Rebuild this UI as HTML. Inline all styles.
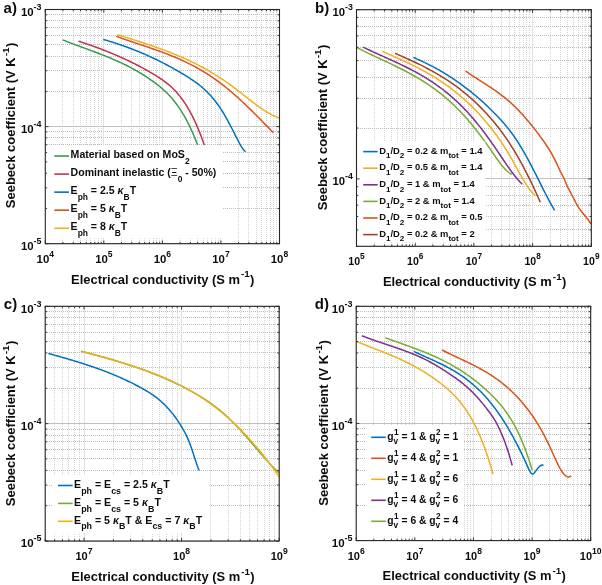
<!DOCTYPE html><html><head><meta charset="utf-8"><style>html,body{margin:0;padding:0;background:#fff;overflow:hidden}svg{display:block;filter:blur(0.45px)}</style></head><body><svg width="602" height="585" viewBox="0 0 602 585">
<style>.mnv{stroke:#d5d5d5;stroke-width:1;stroke-dasharray:1 1}.mnh{stroke:#bcbcbc;stroke-width:1;stroke-dasharray:1 1}.mjv{stroke:#dcdcdc;stroke-width:.9}.mjh{stroke:#c0c0c0;stroke-width:1}.tk{stroke:#262626;stroke-width:.9;fill:none}.bx{stroke:#262626;stroke-width:1.1;fill:none}text{font-family:"Liberation Sans", sans-serif;font-weight:bold;fill:#0d0d0d}</style>
<rect width="602" height="585" fill="#fff"/>
<line x1="62.5" y1="10" x2="62.5" y2="244" class="mnv"/>
<line x1="73.5" y1="10" x2="73.5" y2="244" class="mnv"/>
<line x1="80.5" y1="10" x2="80.5" y2="244" class="mnv"/>
<line x1="86.5" y1="10" x2="86.5" y2="244" class="mnv"/>
<line x1="90.5" y1="10" x2="90.5" y2="244" class="mnv"/>
<line x1="94.5" y1="10" x2="94.5" y2="244" class="mnv"/>
<line x1="98.5" y1="10" x2="98.5" y2="244" class="mnv"/>
<line x1="101.5" y1="10" x2="101.5" y2="244" class="mnv"/>
<line x1="121.5" y1="10" x2="121.5" y2="244" class="mnv"/>
<line x1="131.5" y1="10" x2="131.5" y2="244" class="mnv"/>
<line x1="139.5" y1="10" x2="139.5" y2="244" class="mnv"/>
<line x1="144.5" y1="10" x2="144.5" y2="244" class="mnv"/>
<line x1="149.5" y1="10" x2="149.5" y2="244" class="mnv"/>
<line x1="153.5" y1="10" x2="153.5" y2="244" class="mnv"/>
<line x1="156.5" y1="10" x2="156.5" y2="244" class="mnv"/>
<line x1="159.5" y1="10" x2="159.5" y2="244" class="mnv"/>
<line x1="180.5" y1="10" x2="180.5" y2="244" class="mnv"/>
<line x1="190.5" y1="10" x2="190.5" y2="244" class="mnv"/>
<line x1="197.5" y1="10" x2="197.5" y2="244" class="mnv"/>
<line x1="203.5" y1="10" x2="203.5" y2="244" class="mnv"/>
<line x1="207.5" y1="10" x2="207.5" y2="244" class="mnv"/>
<line x1="211.5" y1="10" x2="211.5" y2="244" class="mnv"/>
<line x1="215.5" y1="10" x2="215.5" y2="244" class="mnv"/>
<line x1="218.5" y1="10" x2="218.5" y2="244" class="mnv"/>
<line x1="238.5" y1="10" x2="238.5" y2="244" class="mnv"/>
<line x1="248.5" y1="10" x2="248.5" y2="244" class="mnv"/>
<line x1="256.5" y1="10" x2="256.5" y2="244" class="mnv"/>
<line x1="261.5" y1="10" x2="261.5" y2="244" class="mnv"/>
<line x1="266.5" y1="10" x2="266.5" y2="244" class="mnv"/>
<line x1="270.5" y1="10" x2="270.5" y2="244" class="mnv"/>
<line x1="273.5" y1="10" x2="273.5" y2="244" class="mnv"/>
<line x1="276.5" y1="10" x2="276.5" y2="244" class="mnv"/>
<line x1="45" y1="208.5" x2="280" y2="208.5" class="mnh"/>
<line x1="45" y1="187.5" x2="280" y2="187.5" class="mnh"/>
<line x1="45" y1="173.5" x2="280" y2="173.5" class="mnh"/>
<line x1="45" y1="161.5" x2="280" y2="161.5" class="mnh"/>
<line x1="45" y1="152.5" x2="280" y2="152.5" class="mnh"/>
<line x1="45" y1="144.5" x2="280" y2="144.5" class="mnh"/>
<line x1="45" y1="137.5" x2="280" y2="137.5" class="mnh"/>
<line x1="45" y1="131.5" x2="280" y2="131.5" class="mnh"/>
<line x1="45" y1="91.5" x2="280" y2="91.5" class="mnh"/>
<line x1="45" y1="70.5" x2="280" y2="70.5" class="mnh"/>
<line x1="45" y1="56.5" x2="280" y2="56.5" class="mnh"/>
<line x1="45" y1="44.5" x2="280" y2="44.5" class="mnh"/>
<line x1="45" y1="35.5" x2="280" y2="35.5" class="mnh"/>
<line x1="45" y1="27.5" x2="280" y2="27.5" class="mnh"/>
<line x1="45" y1="20.5" x2="280" y2="20.5" class="mnh"/>
<line x1="45" y1="14.5" x2="280" y2="14.5" class="mnh"/>
<line x1="45.5" y1="10" x2="45.5" y2="244" class="mjv"/>
<line x1="103.5" y1="10" x2="103.5" y2="244" class="mjv"/>
<line x1="162.5" y1="10" x2="162.5" y2="244" class="mjv"/>
<line x1="220.5" y1="10" x2="220.5" y2="244" class="mjv"/>
<line x1="279.5" y1="10" x2="279.5" y2="244" class="mjv"/>
<line x1="45" y1="243.5" x2="280" y2="243.5" class="mjh"/>
<line x1="45" y1="126.5" x2="280" y2="126.5" class="mjh"/>
<line x1="45" y1="9.5" x2="280" y2="9.5" class="mjh"/>
<path d="M62.7 39.88 L63.69 40.28 L64.69 40.67 L65.68 41.06 L66.67 41.45 L67.66 41.84 L68.66 42.23 L69.65 42.61 L70.64 42.99 L71.63 43.37 L72.63 43.74 L73.62 44.12 L74.61 44.49 L75.6 44.86 L76.6 45.23 L77.59 45.6 L78.58 45.97 L79.58 46.33 L80.57 46.7 L81.56 47.06 L82.55 47.43 L83.55 47.79 L84.54 48.16 L85.53 48.52 L86.52 48.88 L87.52 49.25 L88.51 49.61 L89.5 49.98 L90.49 50.35 L91.49 50.71 L92.48 51.08 L93.47 51.45 L94.46 51.82 L95.46 52.19 L96.45 52.57 L97.44 52.94 L98.44 53.32 L99.43 53.7 L100.42 54.08 L101.41 54.47 L102.41 54.85 L103.4 55.24 L104.39 55.64 L105.38 56.03 L106.38 56.43 L107.37 56.83 L108.36 57.24 L109.35 57.65 L110.35 58.06 L111.34 58.47 L112.33 58.89 L113.33 59.32 L114.32 59.75 L115.31 60.18 L116.3 60.62 L117.3 61.06 L118.29 61.51 L119.28 61.96 L120.27 62.42 L121.27 62.88 L122.26 63.35 L123.25 63.83 L124.24 64.31 L125.24 64.79 L126.23 65.29 L127.22 65.79 L128.21 66.29 L129.21 66.8 L130.2 67.32 L131.19 67.85 L132.19 68.38 L133.18 68.92 L134.17 69.47 L135.16 70.02 L136.16 70.58 L137.15 71.15 L138.14 71.73 L139.13 72.32 L140.13 72.91 L141.12 73.51 L142.11 74.12 L143.1 74.74 L144.1 75.37 L145.09 76.01 L146.08 76.66 L147.07 77.31 L148.07 77.98 L149.06 78.65 L150.05 79.34 L151.05 80.03 L152.04 80.74 L153.03 81.45 L154.02 82.18 L155.02 82.91 L156.01 83.66 L157 84.42 L157.99 85.19 L158.99 85.98 L159.98 86.78 L160.97 87.6 L161.96 88.45 L162.96 89.31 L163.95 90.2 L164.94 91.11 L165.94 92.05 L166.93 93.01 L167.92 94.01 L168.91 95.03 L169.91 96.09 L170.9 97.18 L171.89 98.31 L172.88 99.48 L173.88 100.68 L174.87 101.92 L175.86 103.21 L176.85 104.54 L177.85 105.91 L178.84 107.34 L179.83 108.81 L180.82 110.32 L181.82 111.9 L182.81 113.52 L183.8 115.2 L184.8 116.93 L185.79 118.72 L186.78 120.57 L187.77 122.49 L188.77 124.46 L189.76 126.5 L190.75 128.6 L191.74 130.77 L192.74 133.01 L193.73 135.32 L194.72 137.7 L195.71 140.15 L196.71 142.68 L197.7 145.29" stroke="#3a9a4f" stroke-width="1.5" fill="none" stroke-linejoin="round" stroke-linecap="butt"/>
<path d="M78.4 41.09 L79.39 41.42 L80.38 41.75 L81.38 42.09 L82.37 42.42 L83.36 42.76 L84.35 43.1 L85.34 43.44 L86.34 43.78 L87.33 44.12 L88.32 44.47 L89.31 44.81 L90.31 45.16 L91.3 45.52 L92.29 45.87 L93.28 46.23 L94.27 46.59 L95.27 46.95 L96.26 47.31 L97.25 47.68 L98.24 48.05 L99.23 48.42 L100.23 48.79 L101.22 49.17 L102.21 49.55 L103.2 49.93 L104.2 50.31 L105.19 50.7 L106.18 51.09 L107.17 51.49 L108.16 51.88 L109.16 52.28 L110.15 52.69 L111.14 53.09 L112.13 53.5 L113.12 53.92 L114.12 54.33 L115.11 54.75 L116.1 55.18 L117.09 55.6 L118.09 56.03 L119.08 56.47 L120.07 56.91 L121.06 57.35 L122.05 57.79 L123.05 58.24 L124.04 58.7 L125.03 59.15 L126.02 59.61 L127.01 60.08 L128.01 60.55 L129 61.02 L129.99 61.5 L130.98 61.98 L131.97 62.47 L132.97 62.96 L133.96 63.45 L134.95 63.95 L135.94 64.46 L136.94 64.97 L137.93 65.48 L138.92 66 L139.91 66.52 L140.9 67.05 L141.9 67.58 L142.89 68.12 L143.88 68.66 L144.87 69.21 L145.86 69.76 L146.86 70.32 L147.85 70.89 L148.84 71.45 L149.83 72.03 L150.83 72.61 L151.82 73.19 L152.81 73.78 L153.8 74.38 L154.79 74.98 L155.79 75.58 L156.78 76.2 L157.77 76.82 L158.76 77.45 L159.75 78.09 L160.75 78.75 L161.74 79.42 L162.73 80.11 L163.72 80.82 L164.71 81.54 L165.71 82.29 L166.7 83.06 L167.69 83.85 L168.68 84.67 L169.68 85.52 L170.67 86.4 L171.66 87.31 L172.65 88.25 L173.64 89.22 L174.64 90.23 L175.63 91.28 L176.62 92.37 L177.61 93.5 L178.6 94.67 L179.6 95.89 L180.59 97.15 L181.58 98.45 L182.57 99.81 L183.57 101.22 L184.56 102.67 L185.55 104.19 L186.54 105.75 L187.53 107.38 L188.53 109.06 L189.52 110.8 L190.51 112.61 L191.5 114.48 L192.49 116.41 L193.49 118.41 L194.48 120.48 L195.47 122.61 L196.46 124.82 L197.46 127.1 L198.45 129.46 L199.44 131.89 L200.43 134.4 L201.42 136.99 L202.42 139.66 L203.41 142.42 L204.4 145.25" stroke="#c0334f" stroke-width="1.5" fill="none" stroke-linejoin="round" stroke-linecap="butt"/>
<path d="M103.2 39.41 L104.2 39.7 L105.19 39.98 L106.19 40.27 L107.19 40.57 L108.18 40.87 L109.18 41.17 L110.18 41.47 L111.17 41.78 L112.17 42.09 L113.17 42.41 L114.16 42.73 L115.16 43.05 L116.15 43.38 L117.15 43.7 L118.15 44.04 L119.14 44.37 L120.14 44.71 L121.14 45.06 L122.13 45.4 L123.13 45.75 L124.13 46.11 L125.12 46.46 L126.12 46.82 L127.12 47.19 L128.11 47.56 L129.11 47.93 L130.11 48.31 L131.1 48.69 L132.1 49.07 L133.1 49.46 L134.09 49.85 L135.09 50.24 L136.08 50.64 L137.08 51.04 L138.08 51.45 L139.07 51.86 L140.07 52.28 L141.07 52.69 L142.06 53.12 L143.06 53.54 L144.06 53.97 L145.05 54.41 L146.05 54.84 L147.05 55.28 L148.04 55.73 L149.04 56.18 L150.04 56.64 L151.03 57.09 L152.03 57.56 L153.03 58.02 L154.02 58.49 L155.02 58.97 L156.01 59.45 L157.01 59.93 L158.01 60.42 L159 60.91 L160 61.4 L161 61.9 L161.99 62.41 L162.99 62.92 L163.99 63.43 L164.98 63.95 L165.98 64.47 L166.98 65 L167.97 65.53 L168.97 66.06 L169.97 66.6 L170.96 67.14 L171.96 67.69 L172.96 68.25 L173.95 68.8 L174.95 69.36 L175.94 69.93 L176.94 70.5 L177.94 71.08 L178.93 71.66 L179.93 72.24 L180.93 72.83 L181.92 73.43 L182.92 74.02 L183.92 74.63 L184.91 75.23 L185.91 75.85 L186.91 76.47 L187.9 77.09 L188.9 77.72 L189.9 78.36 L190.89 79.01 L191.89 79.67 L192.89 80.34 L193.88 81.02 L194.88 81.72 L195.87 82.44 L196.87 83.17 L197.87 83.92 L198.86 84.69 L199.86 85.48 L200.86 86.29 L201.85 87.12 L202.85 87.98 L203.85 88.87 L204.84 89.77 L205.84 90.71 L206.84 91.68 L207.83 92.67 L208.83 93.7 L209.83 94.76 L210.82 95.85 L211.82 96.98 L212.82 98.14 L213.81 99.34 L214.81 100.58 L215.8 101.86 L216.8 103.18 L217.8 104.54 L218.79 105.94 L219.79 107.39 L220.79 108.88 L221.78 110.42 L222.78 112.01 L223.78 113.65 L224.77 115.34 L225.77 117.07 L226.77 118.85 L227.76 120.67 L228.76 122.53 L229.76 124.41 L230.75 126.32 L231.75 128.25 L232.75 130.19 L233.74 132.14 L234.74 134.09 L235.73 136.05 L236.73 138 L237.73 139.94 L238.72 141.86 L239.72 143.74 L240.72 145.53 L241.71 147.2 L242.71 148.69 L243.71 149.97 L244.7 151 L245.7 151.74" stroke="#0072bd" stroke-width="1.5" fill="none" stroke-linejoin="round" stroke-linecap="butt"/>
<path d="M116.3 36.3 L117.29 36.66 L118.29 37.03 L119.28 37.39 L120.28 37.74 L121.27 38.1 L122.27 38.45 L123.26 38.8 L124.25 39.15 L125.25 39.5 L126.24 39.84 L127.24 40.18 L128.23 40.52 L129.23 40.86 L130.22 41.2 L131.21 41.54 L132.21 41.88 L133.2 42.21 L134.2 42.55 L135.19 42.88 L136.19 43.22 L137.18 43.55 L138.17 43.88 L139.17 44.22 L140.16 44.55 L141.16 44.88 L142.15 45.21 L143.15 45.55 L144.14 45.88 L145.13 46.22 L146.13 46.55 L147.12 46.89 L148.12 47.23 L149.11 47.57 L150.11 47.91 L151.1 48.25 L152.09 48.59 L153.09 48.94 L154.08 49.28 L155.08 49.63 L156.07 49.98 L157.07 50.34 L158.06 50.69 L159.06 51.05 L160.05 51.41 L161.04 51.77 L162.04 52.14 L163.03 52.51 L164.03 52.88 L165.02 53.26 L166.02 53.64 L167.01 54.02 L168 54.4 L169 54.79 L169.99 55.19 L170.99 55.59 L171.98 55.99 L172.98 56.4 L173.97 56.81 L174.96 57.22 L175.96 57.64 L176.95 58.07 L177.95 58.5 L178.94 58.93 L179.94 59.37 L180.93 59.82 L181.92 60.27 L182.92 60.73 L183.91 61.19 L184.91 61.66 L185.9 62.13 L186.9 62.61 L187.89 63.1 L188.88 63.59 L189.88 64.09 L190.87 64.6 L191.87 65.11 L192.86 65.63 L193.86 66.16 L194.85 66.69 L195.84 67.23 L196.84 67.78 L197.83 68.34 L198.83 68.9 L199.82 69.47 L200.82 70.05 L201.81 70.64 L202.8 71.24 L203.8 71.84 L204.79 72.45 L205.79 73.07 L206.78 73.7 L207.78 74.34 L208.77 74.98 L209.76 75.64 L210.76 76.3 L211.75 76.97 L212.75 77.65 L213.74 78.33 L214.74 79.03 L215.73 79.73 L216.72 80.44 L217.72 81.16 L218.71 81.89 L219.71 82.63 L220.7 83.37 L221.7 84.13 L222.69 84.89 L223.68 85.66 L224.68 86.44 L225.67 87.23 L226.67 88.03 L227.66 88.83 L228.66 89.65 L229.65 90.47 L230.64 91.3 L231.64 92.14 L232.63 93 L233.63 93.85 L234.62 94.72 L235.62 95.6 L236.61 96.49 L237.61 97.38 L238.6 98.28 L239.59 99.19 L240.59 100.11 L241.58 101.03 L242.58 101.96 L243.57 102.9 L244.57 103.85 L245.56 104.79 L246.55 105.75 L247.55 106.71 L248.54 107.68 L249.54 108.65 L250.53 109.62 L251.53 110.6 L252.52 111.59 L253.51 112.57 L254.51 113.57 L255.5 114.56 L256.5 115.56 L257.49 116.56 L258.49 117.56 L259.48 118.56 L260.47 119.57 L261.47 120.58 L262.46 121.58 L263.46 122.59 L264.45 123.6 L265.45 124.61 L266.44 125.63 L267.43 126.64 L268.43 127.65 L269.42 128.66 L270.42 129.66 L271.41 130.67 L272.41 131.68 L273.4 132.68" stroke="#d95319" stroke-width="1.5" fill="none" stroke-linejoin="round" stroke-linecap="butt"/>
<path d="M117.5 34.59 L118.5 34.92 L119.5 35.24 L120.5 35.56 L121.5 35.88 L122.49 36.2 L123.49 36.52 L124.49 36.84 L125.49 37.16 L126.49 37.48 L127.49 37.8 L128.49 38.12 L129.49 38.43 L130.48 38.75 L131.48 39.07 L132.48 39.39 L133.48 39.71 L134.48 40.04 L135.48 40.36 L136.48 40.68 L137.48 41 L138.47 41.33 L139.47 41.65 L140.47 41.98 L141.47 42.3 L142.47 42.63 L143.47 42.96 L144.47 43.29 L145.47 43.62 L146.46 43.96 L147.46 44.29 L148.46 44.63 L149.46 44.96 L150.46 45.3 L151.46 45.64 L152.46 45.99 L153.46 46.33 L154.45 46.68 L155.45 47.03 L156.45 47.38 L157.45 47.73 L158.45 48.09 L159.45 48.45 L160.45 48.81 L161.45 49.17 L162.44 49.54 L163.44 49.91 L164.44 50.28 L165.44 50.66 L166.44 51.03 L167.44 51.41 L168.44 51.8 L169.44 52.19 L170.43 52.58 L171.43 52.97 L172.43 53.37 L173.43 53.77 L174.43 54.17 L175.43 54.58 L176.43 54.99 L177.43 55.41 L178.42 55.83 L179.42 56.25 L180.42 56.68 L181.42 57.11 L182.42 57.54 L183.42 57.98 L184.42 58.43 L185.42 58.88 L186.41 59.33 L187.41 59.79 L188.41 60.25 L189.41 60.72 L190.41 61.19 L191.41 61.67 L192.41 62.15 L193.41 62.63 L194.4 63.13 L195.4 63.62 L196.4 64.12 L197.4 64.63 L198.4 65.15 L199.4 65.66 L200.4 66.19 L201.4 66.72 L202.4 67.25 L203.39 67.8 L204.39 68.34 L205.39 68.9 L206.39 69.45 L207.39 70.02 L208.39 70.59 L209.39 71.17 L210.39 71.75 L211.38 72.34 L212.38 72.94 L213.38 73.54 L214.38 74.15 L215.38 74.77 L216.38 75.39 L217.38 76.02 L218.38 76.66 L219.37 77.3 L220.37 77.95 L221.37 78.61 L222.37 79.27 L223.37 79.94 L224.37 80.62 L225.37 81.31 L226.37 82 L227.36 82.7 L228.36 83.41 L229.36 84.12 L230.36 84.84 L231.36 85.57 L232.36 86.31 L233.36 87.05 L234.36 87.8 L235.35 88.56 L236.35 89.33 L237.35 90.1 L238.35 90.88 L239.35 91.66 L240.35 92.44 L241.35 93.23 L242.35 94.02 L243.34 94.81 L244.34 95.6 L245.34 96.39 L246.34 97.19 L247.34 97.98 L248.34 98.76 L249.34 99.55 L250.34 100.33 L251.33 101.1 L252.33 101.88 L253.33 102.64 L254.33 103.4 L255.33 104.15 L256.33 104.89 L257.33 105.63 L258.33 106.35 L259.32 107.06 L260.32 107.77 L261.32 108.46 L262.32 109.14 L263.32 109.8 L264.32 110.45 L265.32 111.09 L266.32 111.71 L267.31 112.31 L268.31 112.9 L269.31 113.47 L270.31 114.02 L271.31 114.55 L272.31 115.07 L273.31 115.56 L274.31 116.03 L275.3 116.47 L276.3 116.9 L277.3 117.3 L278.3 117.68 L279.3 118.03" stroke="#edb120" stroke-width="1.5" fill="none" stroke-linejoin="round" stroke-linecap="butt"/>
<rect x="45.3" y="145.4" width="176.7" height="92.6" fill="#fff"/>
<line x1="54.3" y1="156.05" x2="69" y2="156.05" stroke="#3a9a4f" stroke-width="1.6"/>
<text x="70.6" y="158.25" font-size="10.55">Material based on MoS<tspan dy="5.28" font-size="8.44">2</tspan></text>
<line x1="54.3" y1="174.1" x2="69" y2="174.1" stroke="#c0334f" stroke-width="1.6"/>
<text x="70.6" y="176.3" font-size="10.55">Dominant inelastic (<tspan font-weight="normal">&#926;</tspan><tspan dy="5.28" font-size="8.44">0</tspan><tspan dy="-5.28"> - 50%)</tspan></text>
<line x1="54.3" y1="192.15" x2="69" y2="192.15" stroke="#0072bd" stroke-width="1.6"/>
<text x="70.6" y="194.35" font-size="10.55">E<tspan dy="5.28" font-size="8.44">ph</tspan><tspan dy="-5.28"> = 2.5 <tspan font-style="italic">&#954;</tspan><tspan dy="5.28" font-size="8.44">B</tspan><tspan dy="-5.28">T</tspan></tspan></text>
<line x1="54.3" y1="210.2" x2="69" y2="210.2" stroke="#d95319" stroke-width="1.6"/>
<text x="70.6" y="212.4" font-size="10.55">E<tspan dy="5.28" font-size="8.44">ph</tspan><tspan dy="-5.28"> = 5 <tspan font-style="italic">&#954;</tspan><tspan dy="5.28" font-size="8.44">B</tspan><tspan dy="-5.28">T</tspan></tspan></text>
<line x1="54.3" y1="228.25" x2="69" y2="228.25" stroke="#edb120" stroke-width="1.6"/>
<text x="70.6" y="230.45" font-size="10.55">E<tspan dy="5.28" font-size="8.44">ph</tspan><tspan dy="-5.28"> = 8 <tspan font-style="italic">&#954;</tspan><tspan dy="5.28" font-size="8.44">B</tspan><tspan dy="-5.28">T</tspan></tspan></text>
<path d="M45.3 243.7 v-3.2 M45.3 9.5 v3.2 M103.85 243.7 v-3.2 M103.85 9.5 v3.2 M162.4 243.7 v-3.2 M162.4 9.5 v3.2 M220.95 243.7 v-3.2 M220.95 9.5 v3.2 M279.5 243.7 v-3.2 M279.5 9.5 v3.2 M62.93 243.7 v-1.8 M62.93 9.5 v1.8 M73.24 243.7 v-1.8 M73.24 9.5 v1.8 M80.55 243.7 v-1.8 M80.55 9.5 v1.8 M86.22 243.7 v-1.8 M86.22 9.5 v1.8 M90.86 243.7 v-1.8 M90.86 9.5 v1.8 M94.78 243.7 v-1.8 M94.78 9.5 v1.8 M98.18 243.7 v-1.8 M98.18 9.5 v1.8 M101.17 243.7 v-1.8 M101.17 9.5 v1.8 M121.48 243.7 v-1.8 M121.48 9.5 v1.8 M131.79 243.7 v-1.8 M131.79 9.5 v1.8 M139.1 243.7 v-1.8 M139.1 9.5 v1.8 M144.77 243.7 v-1.8 M144.77 9.5 v1.8 M149.41 243.7 v-1.8 M149.41 9.5 v1.8 M153.33 243.7 v-1.8 M153.33 9.5 v1.8 M156.73 243.7 v-1.8 M156.73 9.5 v1.8 M159.72 243.7 v-1.8 M159.72 9.5 v1.8 M180.03 243.7 v-1.8 M180.03 9.5 v1.8 M190.34 243.7 v-1.8 M190.34 9.5 v1.8 M197.65 243.7 v-1.8 M197.65 9.5 v1.8 M203.32 243.7 v-1.8 M203.32 9.5 v1.8 M207.96 243.7 v-1.8 M207.96 9.5 v1.8 M211.88 243.7 v-1.8 M211.88 9.5 v1.8 M215.28 243.7 v-1.8 M215.28 9.5 v1.8 M218.27 243.7 v-1.8 M218.27 9.5 v1.8 M238.58 243.7 v-1.8 M238.58 9.5 v1.8 M248.89 243.7 v-1.8 M248.89 9.5 v1.8 M256.2 243.7 v-1.8 M256.2 9.5 v1.8 M261.87 243.7 v-1.8 M261.87 9.5 v1.8 M266.51 243.7 v-1.8 M266.51 9.5 v1.8 M270.43 243.7 v-1.8 M270.43 9.5 v1.8 M273.83 243.7 v-1.8 M273.83 9.5 v1.8 M276.82 243.7 v-1.8 M276.82 9.5 v1.8 M45.3 243.7 h3.2 M279.5 243.7 h-3.2 M45.3 126.6 h3.2 M279.5 126.6 h-3.2 M45.3 9.5 h3.2 M279.5 9.5 h-3.2 M45.3 208.45 h1.8 M279.5 208.45 h-1.8 M45.3 187.83 h1.8 M279.5 187.83 h-1.8 M45.3 173.2 h1.8 M279.5 173.2 h-1.8 M45.3 161.85 h1.8 M279.5 161.85 h-1.8 M45.3 152.58 h1.8 M279.5 152.58 h-1.8 M45.3 144.74 h1.8 M279.5 144.74 h-1.8 M45.3 137.95 h1.8 M279.5 137.95 h-1.8 M45.3 131.96 h1.8 M279.5 131.96 h-1.8 M45.3 91.35 h1.8 M279.5 91.35 h-1.8 M45.3 70.73 h1.8 M279.5 70.73 h-1.8 M45.3 56.1 h1.8 M279.5 56.1 h-1.8 M45.3 44.75 h1.8 M279.5 44.75 h-1.8 M45.3 35.48 h1.8 M279.5 35.48 h-1.8 M45.3 27.64 h1.8 M279.5 27.64 h-1.8 M45.3 20.85 h1.8 M279.5 20.85 h-1.8 M45.3 14.86 h1.8 M279.5 14.86 h-1.8 " class="tk"/>
<rect x="45.3" y="9.5" width="234.2" height="234.2" class="bx"/>
<line x1="374.5" y1="10" x2="374.5" y2="246" class="mnv"/>
<line x1="384.5" y1="10" x2="384.5" y2="246" class="mnv"/>
<line x1="391.5" y1="10" x2="391.5" y2="246" class="mnv"/>
<line x1="397.5" y1="10" x2="397.5" y2="246" class="mnv"/>
<line x1="402.5" y1="10" x2="402.5" y2="246" class="mnv"/>
<line x1="406.5" y1="10" x2="406.5" y2="246" class="mnv"/>
<line x1="409.5" y1="10" x2="409.5" y2="246" class="mnv"/>
<line x1="412.5" y1="10" x2="412.5" y2="246" class="mnv"/>
<line x1="432.5" y1="10" x2="432.5" y2="246" class="mnv"/>
<line x1="443.5" y1="10" x2="443.5" y2="246" class="mnv"/>
<line x1="450.5" y1="10" x2="450.5" y2="246" class="mnv"/>
<line x1="456.5" y1="10" x2="456.5" y2="246" class="mnv"/>
<line x1="460.5" y1="10" x2="460.5" y2="246" class="mnv"/>
<line x1="464.5" y1="10" x2="464.5" y2="246" class="mnv"/>
<line x1="468.5" y1="10" x2="468.5" y2="246" class="mnv"/>
<line x1="471.5" y1="10" x2="471.5" y2="246" class="mnv"/>
<line x1="491.5" y1="10" x2="491.5" y2="246" class="mnv"/>
<line x1="501.5" y1="10" x2="501.5" y2="246" class="mnv"/>
<line x1="509.5" y1="10" x2="509.5" y2="246" class="mnv"/>
<line x1="514.5" y1="10" x2="514.5" y2="246" class="mnv"/>
<line x1="519.5" y1="10" x2="519.5" y2="246" class="mnv"/>
<line x1="523.5" y1="10" x2="523.5" y2="246" class="mnv"/>
<line x1="526.5" y1="10" x2="526.5" y2="246" class="mnv"/>
<line x1="529.5" y1="10" x2="529.5" y2="246" class="mnv"/>
<line x1="550.5" y1="10" x2="550.5" y2="246" class="mnv"/>
<line x1="560.5" y1="10" x2="560.5" y2="246" class="mnv"/>
<line x1="567.5" y1="10" x2="567.5" y2="246" class="mnv"/>
<line x1="573.5" y1="10" x2="573.5" y2="246" class="mnv"/>
<line x1="578.5" y1="10" x2="578.5" y2="246" class="mnv"/>
<line x1="582.5" y1="10" x2="582.5" y2="246" class="mnv"/>
<line x1="585.5" y1="10" x2="585.5" y2="246" class="mnv"/>
<line x1="588.5" y1="10" x2="588.5" y2="246" class="mnv"/>
<line x1="356" y1="246.5" x2="591" y2="246.5" class="mnh"/>
<line x1="356" y1="229.5" x2="591" y2="229.5" class="mnh"/>
<line x1="356" y1="216.5" x2="591" y2="216.5" class="mnh"/>
<line x1="356" y1="205.5" x2="591" y2="205.5" class="mnh"/>
<line x1="356" y1="195.5" x2="591" y2="195.5" class="mnh"/>
<line x1="356" y1="186.5" x2="591" y2="186.5" class="mnh"/>
<line x1="356" y1="128.5" x2="591" y2="128.5" class="mnh"/>
<line x1="356" y1="98.5" x2="591" y2="98.5" class="mnh"/>
<line x1="356" y1="77.5" x2="591" y2="77.5" class="mnh"/>
<line x1="356" y1="60.5" x2="591" y2="60.5" class="mnh"/>
<line x1="356" y1="47.5" x2="591" y2="47.5" class="mnh"/>
<line x1="356" y1="35.5" x2="591" y2="35.5" class="mnh"/>
<line x1="356" y1="26.5" x2="591" y2="26.5" class="mnh"/>
<line x1="356" y1="17.5" x2="591" y2="17.5" class="mnh"/>
<line x1="356.5" y1="10" x2="356.5" y2="246" class="mjv"/>
<line x1="415.5" y1="10" x2="415.5" y2="246" class="mjv"/>
<line x1="473.5" y1="10" x2="473.5" y2="246" class="mjv"/>
<line x1="532.5" y1="10" x2="532.5" y2="246" class="mjv"/>
<line x1="591.5" y1="10" x2="591.5" y2="246" class="mjv"/>
<line x1="356" y1="178.5" x2="591" y2="178.5" class="mjh"/>
<line x1="356" y1="9.5" x2="591" y2="9.5" class="mjh"/>
<path d="M356.5 47.37 L357.5 47.88 L358.49 48.39 L359.49 48.9 L360.48 49.41 L361.48 49.91 L362.47 50.4 L363.47 50.9 L364.46 51.39 L365.46 51.87 L366.46 52.36 L367.45 52.84 L368.45 53.32 L369.44 53.8 L370.44 54.27 L371.43 54.74 L372.43 55.22 L373.42 55.69 L374.42 56.15 L375.41 56.62 L376.41 57.09 L377.41 57.56 L378.4 58.02 L379.4 58.49 L380.39 58.95 L381.39 59.41 L382.38 59.88 L383.38 60.34 L384.37 60.81 L385.37 61.28 L386.37 61.74 L387.36 62.21 L388.36 62.68 L389.35 63.15 L390.35 63.62 L391.34 64.1 L392.34 64.57 L393.33 65.05 L394.33 65.53 L395.32 66.01 L396.32 66.5 L397.32 66.99 L398.31 67.48 L399.31 67.97 L400.3 68.47 L401.3 68.97 L402.29 69.48 L403.29 69.98 L404.28 70.5 L405.28 71.01 L406.28 71.54 L407.27 72.06 L408.27 72.59 L409.26 73.13 L410.26 73.67 L411.25 74.22 L412.25 74.77 L413.24 75.32 L414.24 75.89 L415.24 76.46 L416.23 77.03 L417.23 77.62 L418.22 78.2 L419.22 78.8 L420.21 79.4 L421.21 80.01 L422.2 80.63 L423.2 81.25 L424.19 81.88 L425.19 82.52 L426.19 83.17 L427.18 83.83 L428.18 84.49 L429.17 85.17 L430.17 85.85 L431.16 86.54 L432.16 87.24 L433.15 87.95 L434.15 88.67 L435.15 89.39 L436.14 90.13 L437.14 90.88 L438.13 91.64 L439.13 92.41 L440.12 93.19 L441.12 93.98 L442.11 94.78 L443.11 95.59 L444.11 96.41 L445.1 97.25 L446.1 98.09 L447.09 98.95 L448.09 99.82 L449.08 100.7 L450.08 101.6 L451.07 102.5 L452.07 103.42 L453.06 104.35 L454.06 105.3 L455.06 106.26 L456.05 107.23 L457.05 108.22 L458.04 109.22 L459.04 110.23 L460.03 111.26 L461.03 112.3 L462.02 113.36 L463.02 114.43 L464.02 115.51 L465.01 116.61 L466.01 117.73 L467 118.86 L468 120.01 L468.99 121.17 L469.99 122.34 L470.98 123.53 L471.98 124.74 L472.98 125.96 L473.97 127.19 L474.97 128.44 L475.96 129.7 L476.96 130.97 L477.95 132.26 L478.95 133.56 L479.94 134.87 L480.94 136.19 L481.93 137.53 L482.93 138.88 L483.93 140.25 L484.92 141.62 L485.92 143.01 L486.91 144.41 L487.91 145.82 L488.9 147.24 L489.9 148.68 L490.89 150.12 L491.89 151.57 L492.89 153.03 L493.88 154.48 L494.88 155.93 L495.87 157.36 L496.87 158.78 L497.86 160.17 L498.86 161.54 L499.85 162.87 L500.85 164.16 L501.84 165.41 L502.84 166.61 L503.84 167.76 L504.83 168.85 L505.83 169.87 L506.82 170.83 L507.82 171.71 L508.81 172.51 L509.81 173.22 L510.8 173.85 L511.8 174.38" stroke="#77ac30" stroke-width="1.5" fill="none" stroke-linejoin="round" stroke-linecap="butt"/>
<path d="M363.2 47.18 L364.19 47.66 L365.19 48.14 L366.18 48.61 L367.18 49.09 L368.17 49.56 L369.17 50.02 L370.16 50.49 L371.15 50.95 L372.15 51.41 L373.14 51.87 L374.14 52.32 L375.13 52.78 L376.13 53.23 L377.12 53.68 L378.12 54.13 L379.11 54.58 L380.1 55.03 L381.1 55.48 L382.09 55.93 L383.09 56.37 L384.08 56.82 L385.08 57.27 L386.07 57.72 L387.06 58.17 L388.06 58.62 L389.05 59.07 L390.05 59.52 L391.04 59.97 L392.04 60.42 L393.03 60.88 L394.03 61.34 L395.02 61.79 L396.01 62.26 L397.01 62.72 L398 63.18 L399 63.65 L399.99 64.12 L400.99 64.6 L401.98 65.08 L402.97 65.56 L403.97 66.04 L404.96 66.53 L405.96 67.02 L406.95 67.51 L407.95 68.01 L408.94 68.52 L409.94 69.03 L410.93 69.54 L411.92 70.06 L412.92 70.58 L413.91 71.11 L414.91 71.64 L415.9 72.18 L416.9 72.73 L417.89 73.28 L418.88 73.84 L419.88 74.4 L420.87 74.97 L421.87 75.55 L422.86 76.13 L423.86 76.72 L424.85 77.32 L425.85 77.92 L426.84 78.54 L427.83 79.16 L428.83 79.78 L429.82 80.42 L430.82 81.07 L431.81 81.72 L432.81 82.38 L433.8 83.05 L434.79 83.73 L435.79 84.42 L436.78 85.12 L437.78 85.82 L438.77 86.54 L439.77 87.27 L440.76 88 L441.76 88.75 L442.75 89.51 L443.74 90.27 L444.74 91.05 L445.73 91.84 L446.73 92.64 L447.72 93.45 L448.72 94.28 L449.71 95.11 L450.7 95.96 L451.7 96.82 L452.69 97.69 L453.69 98.57 L454.68 99.46 L455.68 100.37 L456.67 101.29 L457.67 102.23 L458.66 103.17 L459.65 104.13 L460.65 105.11 L461.64 106.09 L462.64 107.09 L463.63 108.11 L464.63 109.14 L465.62 110.18 L466.61 111.24 L467.61 112.32 L468.6 113.4 L469.6 114.51 L470.59 115.63 L471.59 116.76 L472.58 117.91 L473.58 119.07 L474.57 120.25 L475.56 121.45 L476.56 122.65 L477.55 123.88 L478.55 125.11 L479.54 126.36 L480.54 127.63 L481.53 128.91 L482.52 130.2 L483.52 131.5 L484.51 132.82 L485.51 134.15 L486.5 135.5 L487.5 136.85 L488.49 138.22 L489.49 139.61 L490.48 141 L491.47 142.41 L492.47 143.82 L493.46 145.25 L494.46 146.69 L495.45 148.15 L496.45 149.61 L497.44 151.08 L498.43 152.56 L499.43 154.04 L500.42 155.53 L501.42 157.02 L502.41 158.5 L503.41 159.98 L504.4 161.45 L505.4 162.91 L506.39 164.36 L507.38 165.8 L508.38 167.22 L509.37 168.62 L510.37 170 L511.36 171.36 L512.36 172.7 L513.35 174.01 L514.35 175.29 L515.34 176.53 L516.33 177.75 L517.33 178.93 L518.32 180.07 L519.32 181.16 L520.31 182.22 L521.31 183.23 L522.3 184.19" stroke="#7e2f8e" stroke-width="1.5" fill="none" stroke-linejoin="round" stroke-linecap="butt"/>
<path d="M382.2 51.3 L383.2 51.73 L384.19 52.17 L385.19 52.61 L386.18 53.05 L387.18 53.48 L388.18 53.92 L389.17 54.36 L390.17 54.8 L391.16 55.24 L392.16 55.68 L393.16 56.12 L394.15 56.56 L395.15 57.01 L396.15 57.45 L397.14 57.9 L398.14 58.35 L399.13 58.8 L400.13 59.25 L401.13 59.71 L402.12 60.17 L403.12 60.63 L404.11 61.09 L405.11 61.56 L406.11 62.02 L407.1 62.5 L408.1 62.97 L409.09 63.45 L410.09 63.93 L411.09 64.42 L412.08 64.91 L413.08 65.4 L414.08 65.9 L415.07 66.4 L416.07 66.9 L417.06 67.41 L418.06 67.93 L419.06 68.45 L420.05 68.97 L421.05 69.5 L422.04 70.04 L423.04 70.58 L424.04 71.12 L425.03 71.67 L426.03 72.23 L427.02 72.79 L428.02 73.36 L429.02 73.94 L430.01 74.52 L431.01 75.11 L432.01 75.7 L433 76.3 L434 76.91 L434.99 77.53 L435.99 78.15 L436.99 78.78 L437.98 79.42 L438.98 80.06 L439.97 80.71 L440.97 81.38 L441.97 82.04 L442.96 82.72 L443.96 83.41 L444.95 84.1 L445.95 84.8 L446.95 85.51 L447.94 86.23 L448.94 86.96 L449.94 87.7 L450.93 88.45 L451.93 89.21 L452.92 89.97 L453.92 90.75 L454.92 91.54 L455.91 92.33 L456.91 93.14 L457.9 93.96 L458.9 94.79 L459.9 95.63 L460.89 96.47 L461.89 97.33 L462.88 98.21 L463.88 99.09 L464.88 99.98 L465.87 100.89 L466.87 101.8 L467.86 102.73 L468.86 103.67 L469.86 104.63 L470.85 105.59 L471.85 106.57 L472.85 107.56 L473.84 108.56 L474.84 109.57 L475.83 110.6 L476.83 111.64 L477.83 112.7 L478.82 113.76 L479.82 114.85 L480.81 115.94 L481.81 117.05 L482.81 118.17 L483.8 119.31 L484.8 120.46 L485.79 121.63 L486.79 122.82 L487.79 124.02 L488.78 125.23 L489.78 126.47 L490.78 127.72 L491.77 129 L492.77 130.29 L493.76 131.6 L494.76 132.93 L495.76 134.27 L496.75 135.64 L497.75 137.04 L498.74 138.45 L499.74 139.88 L500.74 141.34 L501.73 142.82 L502.73 144.32 L503.72 145.85 L504.72 147.4 L505.72 148.98 L506.71 150.58 L507.71 152.2 L508.71 153.85 L509.7 155.53 L510.7 157.24 L511.69 158.97 L512.69 160.73 L513.69 162.51 L514.68 164.31 L515.68 166.12 L516.67 167.93 L517.67 169.75 L518.67 171.56 L519.66 173.36 L520.66 175.14 L521.65 176.89 L522.65 178.62 L523.65 180.32 L524.64 181.97 L525.64 183.58 L526.64 185.14 L527.63 186.64 L528.63 188.08 L529.62 189.45 L530.62 190.74 L531.62 191.96 L532.61 193.09 L533.61 194.12 L534.6 195.07 L535.6 195.9" stroke="#edb120" stroke-width="1.5" fill="none" stroke-linejoin="round" stroke-linecap="butt"/>
<path d="M395 53.29 L396 53.73 L396.99 54.17 L397.99 54.6 L398.98 55.04 L399.98 55.48 L400.97 55.92 L401.97 56.36 L402.96 56.8 L403.96 57.25 L404.95 57.69 L405.95 58.14 L406.94 58.59 L407.94 59.04 L408.93 59.5 L409.93 59.95 L410.92 60.41 L411.92 60.87 L412.91 61.34 L413.91 61.8 L414.9 62.27 L415.9 62.75 L416.89 63.22 L417.89 63.7 L418.88 64.19 L419.88 64.68 L420.88 65.17 L421.87 65.66 L422.87 66.16 L423.86 66.67 L424.86 67.18 L425.85 67.69 L426.85 68.21 L427.84 68.73 L428.84 69.26 L429.83 69.79 L430.83 70.33 L431.82 70.87 L432.82 71.42 L433.81 71.98 L434.81 72.54 L435.8 73.11 L436.8 73.68 L437.79 74.27 L438.79 74.85 L439.78 75.45 L440.78 76.05 L441.77 76.66 L442.77 77.27 L443.77 77.89 L444.76 78.52 L445.76 79.16 L446.75 79.8 L447.75 80.46 L448.74 81.12 L449.74 81.79 L450.73 82.46 L451.73 83.15 L452.72 83.84 L453.72 84.55 L454.71 85.26 L455.71 85.98 L456.7 86.71 L457.7 87.45 L458.69 88.2 L459.69 88.95 L460.68 89.72 L461.68 90.5 L462.67 91.29 L463.67 92.09 L464.66 92.9 L465.66 93.71 L466.65 94.54 L467.65 95.38 L468.65 96.24 L469.64 97.1 L470.64 97.97 L471.63 98.86 L472.63 99.75 L473.62 100.66 L474.62 101.58 L475.61 102.51 L476.61 103.45 L477.6 104.41 L478.6 105.38 L479.59 106.36 L480.59 107.35 L481.58 108.36 L482.58 109.38 L483.57 110.41 L484.57 111.46 L485.56 112.52 L486.56 113.59 L487.55 114.68 L488.55 115.78 L489.54 116.9 L490.54 118.04 L491.53 119.19 L492.53 120.35 L493.53 121.54 L494.52 122.74 L495.52 123.96 L496.51 125.2 L497.51 126.46 L498.5 127.73 L499.5 129.03 L500.49 130.35 L501.49 131.68 L502.48 133.04 L503.48 134.42 L504.47 135.82 L505.47 137.24 L506.46 138.68 L507.46 140.15 L508.45 141.64 L509.45 143.15 L510.44 144.69 L511.44 146.25 L512.43 147.83 L513.43 149.44 L514.42 151.08 L515.42 152.74 L516.42 154.43 L517.41 156.14 L518.41 157.88 L519.4 159.64 L520.4 161.43 L521.39 163.24 L522.39 165.08 L523.38 166.94 L524.38 168.83 L525.37 170.74 L526.37 172.67 L527.36 174.63 L528.36 176.61 L529.35 178.61 L530.35 180.64 L531.34 182.69 L532.34 184.77 L533.33 186.86 L534.33 188.98 L535.32 191.13 L536.32 193.29 L537.31 195.48 L538.31 197.69 L539.3 199.92 L540.3 202.18" stroke="#a2412a" stroke-width="1.5" fill="none" stroke-linejoin="round" stroke-linecap="butt"/>
<path d="M413.4 57.38 L414.39 57.81 L415.39 58.24 L416.38 58.67 L417.38 59.11 L418.37 59.56 L419.37 60.01 L420.36 60.46 L421.35 60.92 L422.35 61.39 L423.34 61.86 L424.34 62.34 L425.33 62.82 L426.33 63.31 L427.32 63.8 L428.32 64.3 L429.31 64.81 L430.3 65.32 L431.3 65.84 L432.29 66.36 L433.29 66.89 L434.28 67.42 L435.28 67.96 L436.27 68.51 L437.26 69.06 L438.26 69.62 L439.25 70.18 L440.25 70.76 L441.24 71.33 L442.24 71.92 L443.23 72.51 L444.23 73.11 L445.22 73.71 L446.21 74.32 L447.21 74.94 L448.2 75.56 L449.2 76.19 L450.19 76.83 L451.19 77.48 L452.18 78.13 L453.17 78.79 L454.17 79.46 L455.16 80.13 L456.16 80.81 L457.15 81.5 L458.15 82.19 L459.14 82.9 L460.14 83.61 L461.13 84.33 L462.12 85.05 L463.12 85.78 L464.11 86.53 L465.11 87.28 L466.1 88.03 L467.1 88.8 L468.09 89.57 L469.08 90.35 L470.08 91.14 L471.07 91.94 L472.07 92.74 L473.06 93.56 L474.06 94.38 L475.05 95.21 L476.05 96.05 L477.04 96.89 L478.03 97.75 L479.03 98.61 L480.02 99.49 L481.02 100.37 L482.01 101.26 L483.01 102.16 L484 103.07 L484.99 103.99 L485.99 104.91 L486.98 105.85 L487.98 106.79 L488.97 107.75 L489.97 108.71 L490.96 109.68 L491.95 110.66 L492.95 111.66 L493.94 112.66 L494.94 113.67 L495.93 114.69 L496.93 115.72 L497.92 116.76 L498.92 117.82 L499.91 118.89 L500.9 119.97 L501.9 121.07 L502.89 122.19 L503.89 123.33 L504.88 124.49 L505.88 125.67 L506.87 126.88 L507.86 128.11 L508.86 129.36 L509.85 130.64 L510.85 131.94 L511.84 133.28 L512.84 134.65 L513.83 136.04 L514.83 137.47 L515.82 138.93 L516.81 140.43 L517.81 141.96 L518.8 143.53 L519.8 145.13 L520.79 146.76 L521.79 148.42 L522.78 150.11 L523.77 151.83 L524.77 153.57 L525.76 155.34 L526.76 157.13 L527.75 158.95 L528.75 160.79 L529.74 162.65 L530.74 164.53 L531.73 166.43 L532.72 168.35 L533.72 170.29 L534.71 172.24 L535.71 174.2 L536.7 176.18 L537.7 178.16 L538.69 180.15 L539.68 182.14 L540.68 184.13 L541.67 186.12 L542.67 188.1 L543.66 190.07 L544.66 192.03 L545.65 193.98 L546.65 195.91 L547.64 197.82 L548.63 199.71 L549.63 201.57 L550.62 203.4 L551.62 205.2 L552.61 206.97 L553.61 208.7 L554.6 210.39" stroke="#0072bd" stroke-width="1.5" fill="none" stroke-linejoin="round" stroke-linecap="butt"/>
<path d="M465.6 71 L466.59 71.71 L467.59 72.4 L468.58 73.09 L469.57 73.77 L470.57 74.44 L471.56 75.11 L472.56 75.77 L473.55 76.42 L474.54 77.07 L475.54 77.72 L476.53 78.36 L477.52 79 L478.52 79.63 L479.51 80.27 L480.5 80.9 L481.5 81.54 L482.49 82.17 L483.49 82.8 L484.48 83.44 L485.47 84.08 L486.47 84.72 L487.46 85.36 L488.45 86.01 L489.45 86.66 L490.44 87.31 L491.43 87.97 L492.43 88.64 L493.42 89.32 L494.42 90 L495.41 90.69 L496.4 91.39 L497.4 92.09 L498.39 92.81 L499.38 93.54 L500.38 94.28 L501.37 95.03 L502.37 95.79 L503.36 96.57 L504.35 97.36 L505.35 98.16 L506.34 98.98 L507.33 99.81 L508.33 100.66 L509.32 101.52 L510.31 102.4 L511.31 103.3 L512.3 104.22 L513.3 105.16 L514.29 106.11 L515.28 107.08 L516.28 108.07 L517.27 109.07 L518.26 110.09 L519.26 111.13 L520.25 112.18 L521.24 113.25 L522.24 114.34 L523.23 115.44 L524.23 116.56 L525.22 117.69 L526.21 118.83 L527.21 120 L528.2 121.17 L529.19 122.36 L530.19 123.57 L531.18 124.79 L532.17 126.02 L533.17 127.27 L534.16 128.52 L535.16 129.8 L536.15 131.08 L537.14 132.38 L538.14 133.69 L539.13 135.02 L540.12 136.35 L541.12 137.7 L542.11 139.06 L543.1 140.44 L544.1 141.84 L545.09 143.27 L546.09 144.73 L547.08 146.23 L548.07 147.77 L549.07 149.35 L550.06 150.99 L551.05 152.69 L552.05 154.45 L553.04 156.27 L554.03 158.14 L555.03 160.08 L556.02 162.09 L557.02 164.15 L558.01 166.27 L559 168.45 L560 170.64 L560.99 172.73 L561.98 174.65 L562.98 176.49 L563.97 178.45 L564.97 180.75 L565.96 183.29 L566.95 185.61 L567.95 187.58 L568.94 189.38 L569.93 191.2 L570.93 193.09 L571.92 195.02 L572.91 196.98 L573.91 198.93 L574.9 200.87 L575.9 202.76 L576.89 204.58 L577.88 206.31 L578.88 207.93 L579.87 209.42 L580.86 210.78 L581.86 212.05 L582.85 213.25 L583.84 214.42 L584.84 215.57 L585.83 216.74 L586.83 217.95 L587.82 219.23 L588.81 220.62 L589.81 222.13 L590.8 223.8" stroke="#d95319" stroke-width="1.5" fill="none" stroke-linejoin="round" stroke-linecap="butt"/>
<rect x="356.5" y="141.6" width="128.9" height="99.9" fill="#fff"/>
<line x1="363.2" y1="151.6" x2="377.7" y2="151.6" stroke="#0072bd" stroke-width="1.6"/>
<text x="379.2" y="153.7" font-size="9.4">D<tspan dy="4.7" font-size="8.08">1</tspan><tspan dy="-4.7">/D<tspan dy="4.7" font-size="8.08">2</tspan><tspan dy="-4.7"> = 0.2 &amp; m<tspan dy="4.7" font-size="8.08">tot</tspan><tspan dy="-4.7"> = 1.4</tspan></tspan></tspan></text>
<line x1="363.2" y1="168.2" x2="377.7" y2="168.2" stroke="#edb120" stroke-width="1.6"/>
<text x="379.2" y="170.3" font-size="9.4">D<tspan dy="4.7" font-size="8.08">1</tspan><tspan dy="-4.7">/D<tspan dy="4.7" font-size="8.08">2</tspan><tspan dy="-4.7"> = 0.5 &amp; m<tspan dy="4.7" font-size="8.08">tot</tspan><tspan dy="-4.7"> = 1.4</tspan></tspan></tspan></text>
<line x1="363.2" y1="184.8" x2="377.7" y2="184.8" stroke="#7e2f8e" stroke-width="1.6"/>
<text x="379.2" y="186.9" font-size="9.4">D<tspan dy="4.7" font-size="8.08">1</tspan><tspan dy="-4.7">/D<tspan dy="4.7" font-size="8.08">2</tspan><tspan dy="-4.7"> = 1 &amp; m<tspan dy="4.7" font-size="8.08">tot</tspan><tspan dy="-4.7"> = 1.4</tspan></tspan></tspan></text>
<line x1="363.2" y1="201.4" x2="377.7" y2="201.4" stroke="#77ac30" stroke-width="1.6"/>
<text x="379.2" y="203.5" font-size="9.4">D<tspan dy="4.7" font-size="8.08">1</tspan><tspan dy="-4.7">/D<tspan dy="4.7" font-size="8.08">2</tspan><tspan dy="-4.7"> = 2 &amp; m<tspan dy="4.7" font-size="8.08">tot</tspan><tspan dy="-4.7"> = 1.4</tspan></tspan></tspan></text>
<line x1="363.2" y1="218" x2="377.7" y2="218" stroke="#d95319" stroke-width="1.6"/>
<text x="379.2" y="220.1" font-size="9.4">D<tspan dy="4.7" font-size="8.08">1</tspan><tspan dy="-4.7">/D<tspan dy="4.7" font-size="8.08">2</tspan><tspan dy="-4.7"> = 0.2 &amp; m<tspan dy="4.7" font-size="8.08">tot</tspan><tspan dy="-4.7"> = 0.5</tspan></tspan></tspan></text>
<line x1="363.2" y1="234.6" x2="377.7" y2="234.6" stroke="#a2412a" stroke-width="1.6"/>
<text x="379.2" y="236.7" font-size="9.4">D<tspan dy="4.7" font-size="8.08">1</tspan><tspan dy="-4.7">/D<tspan dy="4.7" font-size="8.08">2</tspan><tspan dy="-4.7"> = 0.2 &amp; m<tspan dy="4.7" font-size="8.08">tot</tspan><tspan dy="-4.7"> = 2</tspan></tspan></tspan></text>
<path d="M356.5 246.3 v-3.2 M356.5 9.7 v3.2 M415.2 246.3 v-3.2 M415.2 9.7 v3.2 M473.9 246.3 v-3.2 M473.9 9.7 v3.2 M532.6 246.3 v-3.2 M532.6 9.7 v3.2 M591.3 246.3 v-3.2 M591.3 9.7 v3.2 M374.17 246.3 v-1.8 M374.17 9.7 v1.8 M384.51 246.3 v-1.8 M384.51 9.7 v1.8 M391.84 246.3 v-1.8 M391.84 9.7 v1.8 M397.53 246.3 v-1.8 M397.53 9.7 v1.8 M402.18 246.3 v-1.8 M402.18 9.7 v1.8 M406.11 246.3 v-1.8 M406.11 9.7 v1.8 M409.51 246.3 v-1.8 M409.51 9.7 v1.8 M412.51 246.3 v-1.8 M412.51 9.7 v1.8 M432.87 246.3 v-1.8 M432.87 9.7 v1.8 M443.21 246.3 v-1.8 M443.21 9.7 v1.8 M450.54 246.3 v-1.8 M450.54 9.7 v1.8 M456.23 246.3 v-1.8 M456.23 9.7 v1.8 M460.88 246.3 v-1.8 M460.88 9.7 v1.8 M464.81 246.3 v-1.8 M464.81 9.7 v1.8 M468.21 246.3 v-1.8 M468.21 9.7 v1.8 M471.21 246.3 v-1.8 M471.21 9.7 v1.8 M491.57 246.3 v-1.8 M491.57 9.7 v1.8 M501.91 246.3 v-1.8 M501.91 9.7 v1.8 M509.24 246.3 v-1.8 M509.24 9.7 v1.8 M514.93 246.3 v-1.8 M514.93 9.7 v1.8 M519.58 246.3 v-1.8 M519.58 9.7 v1.8 M523.51 246.3 v-1.8 M523.51 9.7 v1.8 M526.91 246.3 v-1.8 M526.91 9.7 v1.8 M529.91 246.3 v-1.8 M529.91 9.7 v1.8 M550.27 246.3 v-1.8 M550.27 9.7 v1.8 M560.61 246.3 v-1.8 M560.61 9.7 v1.8 M567.94 246.3 v-1.8 M567.94 9.7 v1.8 M573.63 246.3 v-1.8 M573.63 9.7 v1.8 M578.28 246.3 v-1.8 M578.28 9.7 v1.8 M582.21 246.3 v-1.8 M582.21 9.7 v1.8 M585.61 246.3 v-1.8 M585.61 9.7 v1.8 M588.61 246.3 v-1.8 M588.61 9.7 v1.8 M356.5 178.95 h3.2 M591.3 178.95 h-3.2 M356.5 9.7 h3.2 M591.3 9.7 h-3.2 M356.5 246.3 h1.8 M591.3 246.3 h-1.8 M356.5 229.9 h1.8 M591.3 229.9 h-1.8 M356.5 216.5 h1.8 M591.3 216.5 h-1.8 M356.5 205.17 h1.8 M591.3 205.17 h-1.8 M356.5 195.35 h1.8 M591.3 195.35 h-1.8 M356.5 186.69 h1.8 M591.3 186.69 h-1.8 M356.5 128 h1.8 M591.3 128 h-1.8 M356.5 98.2 h1.8 M591.3 98.2 h-1.8 M356.5 77.05 h1.8 M591.3 77.05 h-1.8 M356.5 60.65 h1.8 M591.3 60.65 h-1.8 M356.5 47.25 h1.8 M591.3 47.25 h-1.8 M356.5 35.92 h1.8 M591.3 35.92 h-1.8 M356.5 26.1 h1.8 M591.3 26.1 h-1.8 M356.5 17.44 h1.8 M591.3 17.44 h-1.8 " class="tk"/>
<rect x="356.5" y="9.7" width="234.8" height="236.6" class="bx"/>
<line x1="45.5" y1="306" x2="45.5" y2="541" class="mnv"/>
<line x1="54.5" y1="306" x2="54.5" y2="541" class="mnv"/>
<line x1="62.5" y1="306" x2="62.5" y2="541" class="mnv"/>
<line x1="68.5" y1="306" x2="68.5" y2="541" class="mnv"/>
<line x1="74.5" y1="306" x2="74.5" y2="541" class="mnv"/>
<line x1="79.5" y1="306" x2="79.5" y2="541" class="mnv"/>
<line x1="113.5" y1="306" x2="113.5" y2="541" class="mnv"/>
<line x1="130.5" y1="306" x2="130.5" y2="541" class="mnv"/>
<line x1="142.5" y1="306" x2="142.5" y2="541" class="mnv"/>
<line x1="152.5" y1="306" x2="152.5" y2="541" class="mnv"/>
<line x1="159.5" y1="306" x2="159.5" y2="541" class="mnv"/>
<line x1="166.5" y1="306" x2="166.5" y2="541" class="mnv"/>
<line x1="172.5" y1="306" x2="172.5" y2="541" class="mnv"/>
<line x1="177.5" y1="306" x2="177.5" y2="541" class="mnv"/>
<line x1="210.5" y1="306" x2="210.5" y2="541" class="mnv"/>
<line x1="228.5" y1="306" x2="228.5" y2="541" class="mnv"/>
<line x1="240.5" y1="306" x2="240.5" y2="541" class="mnv"/>
<line x1="249.5" y1="306" x2="249.5" y2="541" class="mnv"/>
<line x1="257.5" y1="306" x2="257.5" y2="541" class="mnv"/>
<line x1="264.5" y1="306" x2="264.5" y2="541" class="mnv"/>
<line x1="269.5" y1="306" x2="269.5" y2="541" class="mnv"/>
<line x1="274.5" y1="306" x2="274.5" y2="541" class="mnv"/>
<line x1="45" y1="505.5" x2="279" y2="505.5" class="mnh"/>
<line x1="45" y1="485.5" x2="279" y2="485.5" class="mnh"/>
<line x1="45" y1="470.5" x2="279" y2="470.5" class="mnh"/>
<line x1="45" y1="458.5" x2="279" y2="458.5" class="mnh"/>
<line x1="45" y1="449.5" x2="279" y2="449.5" class="mnh"/>
<line x1="45" y1="441.5" x2="279" y2="441.5" class="mnh"/>
<line x1="45" y1="435.5" x2="279" y2="435.5" class="mnh"/>
<line x1="45" y1="429.5" x2="279" y2="429.5" class="mnh"/>
<line x1="45" y1="388.5" x2="279" y2="388.5" class="mnh"/>
<line x1="45" y1="367.5" x2="279" y2="367.5" class="mnh"/>
<line x1="45" y1="352.5" x2="279" y2="352.5" class="mnh"/>
<line x1="45" y1="341.5" x2="279" y2="341.5" class="mnh"/>
<line x1="45" y1="332.5" x2="279" y2="332.5" class="mnh"/>
<line x1="45" y1="324.5" x2="279" y2="324.5" class="mnh"/>
<line x1="45" y1="317.5" x2="279" y2="317.5" class="mnh"/>
<line x1="45" y1="311.5" x2="279" y2="311.5" class="mnh"/>
<line x1="84.5" y1="306" x2="84.5" y2="541" class="mjv"/>
<line x1="181.5" y1="306" x2="181.5" y2="541" class="mjv"/>
<line x1="279.5" y1="306" x2="279.5" y2="541" class="mjv"/>
<line x1="45" y1="541.5" x2="279" y2="541.5" class="mjh"/>
<line x1="45" y1="423.5" x2="279" y2="423.5" class="mjh"/>
<line x1="45" y1="306.5" x2="279" y2="306.5" class="mjh"/>
<path d="M48.4 353.42 L49.4 353.7 L50.4 353.98 L51.39 354.27 L52.39 354.55 L53.39 354.83 L54.39 355.11 L55.39 355.39 L56.38 355.67 L57.38 355.96 L58.38 356.24 L59.38 356.52 L60.38 356.81 L61.37 357.1 L62.37 357.38 L63.37 357.67 L64.37 357.96 L65.37 358.25 L66.36 358.54 L67.36 358.83 L68.36 359.13 L69.36 359.42 L70.36 359.72 L71.35 360.01 L72.35 360.31 L73.35 360.61 L74.35 360.91 L75.35 361.22 L76.34 361.52 L77.34 361.83 L78.34 362.14 L79.34 362.45 L80.34 362.76 L81.33 363.08 L82.33 363.39 L83.33 363.71 L84.33 364.03 L85.33 364.36 L86.32 364.68 L87.32 365.01 L88.32 365.34 L89.32 365.67 L90.32 366.01 L91.31 366.35 L92.31 366.69 L93.31 367.03 L94.31 367.38 L95.31 367.73 L96.3 368.08 L97.3 368.43 L98.3 368.79 L99.3 369.15 L100.3 369.52 L101.29 369.88 L102.29 370.25 L103.29 370.63 L104.29 371.01 L105.29 371.39 L106.28 371.77 L107.28 372.16 L108.28 372.55 L109.28 372.95 L110.28 373.34 L111.27 373.75 L112.27 374.15 L113.27 374.56 L114.27 374.98 L115.27 375.4 L116.26 375.82 L117.26 376.25 L118.26 376.68 L119.26 377.11 L120.26 377.55 L121.25 378 L122.25 378.44 L123.25 378.9 L124.25 379.35 L125.25 379.82 L126.25 380.28 L127.24 380.75 L128.24 381.23 L129.24 381.71 L130.24 382.2 L131.24 382.69 L132.23 383.19 L133.23 383.69 L134.23 384.19 L135.23 384.71 L136.23 385.22 L137.22 385.74 L138.22 386.27 L139.22 386.81 L140.22 387.34 L141.22 387.89 L142.21 388.44 L143.21 389 L144.21 389.57 L145.21 390.15 L146.21 390.73 L147.2 391.33 L148.2 391.95 L149.2 392.58 L150.2 393.22 L151.2 393.88 L152.19 394.55 L153.19 395.24 L154.19 395.95 L155.19 396.69 L156.19 397.44 L157.18 398.21 L158.18 399.01 L159.18 399.83 L160.18 400.68 L161.18 401.55 L162.17 402.45 L163.17 403.38 L164.17 404.33 L165.17 405.32 L166.17 406.33 L167.16 407.38 L168.16 408.47 L169.16 409.58 L170.16 410.73 L171.16 411.92 L172.15 413.14 L173.15 414.4 L174.15 415.71 L175.15 417.05 L176.15 418.43 L177.14 419.85 L178.14 421.32 L179.14 422.83 L180.14 424.39 L181.14 425.99 L182.13 427.64 L183.13 429.34 L184.13 431.12 L185.13 432.99 L186.13 434.97 L187.12 437.08 L188.12 439.34 L189.12 441.77 L190.12 444.38 L191.12 447.16 L192.11 450.09 L193.11 453.12 L194.11 456.22 L195.11 459.33 L196.11 462.37 L197.1 465.3 L198.1 468.05 L199.1 470.56" stroke="#0072bd" stroke-width="1.5" fill="none" stroke-linejoin="round" stroke-linecap="butt"/>
<path d="M81 351.2 L82 351.45 L82.99 351.71 L83.99 351.96 L84.98 352.22 L85.98 352.48 L86.98 352.73 L87.97 352.99 L88.97 353.25 L89.96 353.51 L90.96 353.77 L91.96 354.03 L92.95 354.3 L93.95 354.56 L94.94 354.83 L95.94 355.09 L96.94 355.36 L97.93 355.63 L98.93 355.9 L99.92 356.17 L100.92 356.44 L101.92 356.72 L102.91 356.99 L103.91 357.27 L104.9 357.55 L105.9 357.83 L106.9 358.11 L107.89 358.39 L108.89 358.68 L109.88 358.97 L110.88 359.25 L111.88 359.54 L112.87 359.84 L113.87 360.13 L114.86 360.42 L115.86 360.72 L116.86 361.02 L117.85 361.32 L118.85 361.62 L119.84 361.93 L120.84 362.24 L121.84 362.54 L122.83 362.86 L123.83 363.17 L124.82 363.48 L125.82 363.8 L126.82 364.12 L127.81 364.44 L128.81 364.77 L129.8 365.1 L130.8 365.42 L131.79 365.76 L132.79 366.09 L133.79 366.43 L134.78 366.77 L135.78 367.11 L136.77 367.45 L137.77 367.8 L138.77 368.15 L139.76 368.5 L140.76 368.85 L141.75 369.21 L142.75 369.57 L143.75 369.94 L144.74 370.3 L145.74 370.67 L146.73 371.04 L147.73 371.42 L148.73 371.8 L149.72 372.18 L150.72 372.56 L151.71 372.95 L152.71 373.34 L153.71 373.73 L154.7 374.13 L155.7 374.53 L156.69 374.93 L157.69 375.34 L158.69 375.75 L159.68 376.16 L160.68 376.58 L161.67 377 L162.67 377.43 L163.67 377.85 L164.66 378.29 L165.66 378.72 L166.65 379.16 L167.65 379.6 L168.65 380.05 L169.64 380.5 L170.64 380.95 L171.63 381.41 L172.63 381.87 L173.63 382.33 L174.62 382.8 L175.62 383.27 L176.61 383.75 L177.61 384.23 L178.61 384.72 L179.6 385.2 L180.6 385.7 L181.59 386.19 L182.59 386.7 L183.59 387.2 L184.58 387.71 L185.58 388.23 L186.57 388.75 L187.57 389.27 L188.57 389.8 L189.56 390.33 L190.56 390.86 L191.55 391.41 L192.55 391.95 L193.55 392.51 L194.54 393.07 L195.54 393.63 L196.53 394.2 L197.53 394.78 L198.53 395.37 L199.52 395.96 L200.52 396.56 L201.51 397.17 L202.51 397.79 L203.51 398.42 L204.5 399.05 L205.5 399.7 L206.49 400.35 L207.49 401.02 L208.49 401.7 L209.48 402.38 L210.48 403.08 L211.47 403.79 L212.47 404.51 L213.47 405.24 L214.46 405.98 L215.46 406.74 L216.45 407.51 L217.45 408.29 L218.45 409.09 L219.44 409.9 L220.44 410.72 L221.43 411.56 L222.43 412.42 L223.43 413.28 L224.42 414.17 L225.42 415.06 L226.41 415.98 L227.41 416.9 L228.41 417.84 L229.4 418.79 L230.4 419.76 L231.39 420.74 L232.39 421.73 L233.38 422.74 L234.38 423.75 L235.38 424.78 L236.37 425.82 L237.37 426.87 L238.36 427.94 L239.36 429.01 L240.36 430.09 L241.35 431.19 L242.35 432.29 L243.34 433.41 L244.34 434.53 L245.34 435.66 L246.33 436.8 L247.33 437.95 L248.32 439.1 L249.32 440.25 L250.32 441.41 L251.31 442.58 L252.31 443.74 L253.3 444.91 L254.3 446.08 L255.3 447.24 L256.29 448.41 L257.29 449.57 L258.28 450.73 L259.28 451.89 L260.28 453.05 L261.27 454.19 L262.27 455.33 L263.26 456.47 L264.26 457.59 L265.26 458.71 L266.25 459.82 L267.25 460.92 L268.24 462 L269.24 463.08 L270.24 464.14 L271.23 465.18 L272.23 466.21 L273.22 467.23 L274.22 468.23 L275.22 469.21 L276.21 470.17 L277.21 471.12 L278.2 472.04 L279.2 472.95" stroke="#77ac30" stroke-width="1.5" fill="none" stroke-linejoin="round" stroke-linecap="butt"/>
<path d="M81.8 351.37 L82.8 351.66 L83.79 351.95 L84.79 352.23 L85.79 352.52 L86.78 352.81 L87.78 353.09 L88.78 353.37 L89.78 353.65 L90.77 353.94 L91.77 354.22 L92.77 354.5 L93.76 354.78 L94.76 355.06 L95.76 355.34 L96.75 355.62 L97.75 355.89 L98.75 356.17 L99.75 356.45 L100.74 356.73 L101.74 357.01 L102.74 357.29 L103.73 357.57 L104.73 357.85 L105.73 358.13 L106.72 358.41 L107.72 358.69 L108.72 358.97 L109.72 359.25 L110.71 359.53 L111.71 359.82 L112.71 360.1 L113.7 360.39 L114.7 360.67 L115.7 360.96 L116.69 361.25 L117.69 361.54 L118.69 361.83 L119.68 362.12 L120.68 362.42 L121.68 362.71 L122.68 363.01 L123.67 363.31 L124.67 363.61 L125.67 363.91 L126.66 364.22 L127.66 364.52 L128.66 364.83 L129.65 365.14 L130.65 365.45 L131.65 365.77 L132.65 366.08 L133.64 366.4 L134.64 366.72 L135.64 367.05 L136.63 367.38 L137.63 367.7 L138.63 368.04 L139.62 368.37 L140.62 368.71 L141.62 369.05 L142.62 369.39 L143.61 369.74 L144.61 370.09 L145.61 370.44 L146.6 370.8 L147.6 371.16 L148.6 371.52 L149.59 371.89 L150.59 372.26 L151.59 372.63 L152.58 373.01 L153.58 373.39 L154.58 373.77 L155.58 374.16 L156.57 374.56 L157.57 374.95 L158.57 375.35 L159.56 375.76 L160.56 376.17 L161.56 376.58 L162.55 377 L163.55 377.42 L164.55 377.85 L165.55 378.28 L166.54 378.72 L167.54 379.16 L168.54 379.61 L169.53 380.06 L170.53 380.52 L171.53 380.98 L172.52 381.44 L173.52 381.91 L174.52 382.39 L175.52 382.87 L176.51 383.36 L177.51 383.85 L178.51 384.35 L179.5 384.86 L180.5 385.37 L181.5 385.88 L182.49 386.4 L183.49 386.93 L184.49 387.46 L185.48 388 L186.48 388.55 L187.48 389.1 L188.48 389.66 L189.47 390.22 L190.47 390.79 L191.47 391.37 L192.46 391.95 L193.46 392.54 L194.46 393.14 L195.45 393.74 L196.45 394.35 L197.45 394.97 L198.45 395.6 L199.44 396.23 L200.44 396.87 L201.44 397.52 L202.43 398.17 L203.43 398.83 L204.43 399.5 L205.42 400.18 L206.42 400.86 L207.42 401.55 L208.42 402.25 L209.41 402.96 L210.41 403.68 L211.41 404.4 L212.4 405.14 L213.4 405.88 L214.4 406.63 L215.39 407.39 L216.39 408.15 L217.39 408.93 L218.38 409.71 L219.38 410.51 L220.38 411.31 L221.38 412.12 L222.37 412.94 L223.37 413.77 L224.37 414.61 L225.36 415.46 L226.36 416.32 L227.36 417.19 L228.35 418.06 L229.35 418.95 L230.35 419.85 L231.35 420.75 L232.34 421.67 L233.34 422.59 L234.34 423.53 L235.33 424.48 L236.33 425.43 L237.33 426.4 L238.32 427.37 L239.32 428.36 L240.32 429.36 L241.32 430.36 L242.31 431.38 L243.31 432.41 L244.31 433.45 L245.3 434.5 L246.3 435.56 L247.3 436.63 L248.29 437.71 L249.29 438.8 L250.29 439.91 L251.28 441.02 L252.28 442.15 L253.28 443.28 L254.28 444.43 L255.27 445.59 L256.27 446.76 L257.27 447.94 L258.26 449.13 L259.26 450.33 L260.26 451.55 L261.25 452.77 L262.25 454.01 L263.25 455.26 L264.25 456.52 L265.24 457.79 L266.24 459.07 L267.24 460.37 L268.23 461.67 L269.23 462.99 L270.23 464.32 L271.22 465.67 L272.22 467.02 L273.22 468.39 L274.22 469.77 L275.21 471.16 L276.21 472.56 L277.21 473.97 L278.2 475.4 L279.2 476.84" stroke="#edb120" stroke-width="1.5" fill="none" stroke-linejoin="round" stroke-linecap="butt"/>
<rect x="52" y="474.8" width="157.5" height="58" fill="#fff"/>
<line x1="58" y1="485.5" x2="72.7" y2="485.5" stroke="#0072bd" stroke-width="1.6"/>
<text x="74.1" y="488.3" font-size="10.6">E<tspan dy="5.3" font-size="8.9">ph</tspan><tspan dy="-5.3"> = E<tspan dy="5.3" font-size="8.9">cs</tspan><tspan dy="-5.3"> = 2.5 <tspan font-style="italic">&#954;</tspan><tspan dy="5.3" font-size="8.9">B</tspan><tspan dy="-5.3">T</tspan></tspan></tspan></text>
<line x1="58" y1="503.4" x2="72.7" y2="503.4" stroke="#77ac30" stroke-width="1.6"/>
<text x="74.1" y="506.2" font-size="10.6">E<tspan dy="5.3" font-size="8.9">ph</tspan><tspan dy="-5.3"> = E<tspan dy="5.3" font-size="8.9">cs</tspan><tspan dy="-5.3"> = 5 <tspan font-style="italic">&#954;</tspan><tspan dy="5.3" font-size="8.9">B</tspan><tspan dy="-5.3">T</tspan></tspan></tspan></text>
<line x1="58" y1="521.3" x2="72.7" y2="521.3" stroke="#edb120" stroke-width="1.6"/>
<text x="74.1" y="524.1" font-size="10.6">E<tspan dy="5.3" font-size="8.9">ph</tspan><tspan dy="-5.3"> = 5 <tspan font-style="italic">&#954;</tspan><tspan dy="5.3" font-size="8.9">B</tspan><tspan dy="-5.3">T &amp; E<tspan dy="5.3" font-size="8.9">cs</tspan><tspan dy="-5.3"> = 7 <tspan font-style="italic">&#954;</tspan><tspan dy="5.3" font-size="8.9">B</tspan><tspan dy="-5.3">T</tspan></tspan></tspan></tspan></text>
<path d="M84.03 541 v-3.2 M84.03 306.3 v3.2 M181.62 541 v-3.2 M181.62 306.3 v3.2 M279.2 541 v-3.2 M279.2 306.3 v3.2 M45.2 541 v-1.8 M45.2 306.3 v1.8 M54.66 541 v-1.8 M54.66 306.3 v1.8 M62.38 541 v-1.8 M62.38 306.3 v1.8 M68.92 541 v-1.8 M68.92 306.3 v1.8 M74.58 541 v-1.8 M74.58 306.3 v1.8 M79.57 541 v-1.8 M79.57 306.3 v1.8 M113.41 541 v-1.8 M113.41 306.3 v1.8 M130.59 541 v-1.8 M130.59 306.3 v1.8 M142.78 541 v-1.8 M142.78 306.3 v1.8 M152.24 541 v-1.8 M152.24 306.3 v1.8 M159.97 541 v-1.8 M159.97 306.3 v1.8 M166.5 541 v-1.8 M166.5 306.3 v1.8 M172.16 541 v-1.8 M172.16 306.3 v1.8 M177.15 541 v-1.8 M177.15 306.3 v1.8 M210.99 541 v-1.8 M210.99 306.3 v1.8 M228.18 541 v-1.8 M228.18 306.3 v1.8 M240.37 541 v-1.8 M240.37 306.3 v1.8 M249.82 541 v-1.8 M249.82 306.3 v1.8 M257.55 541 v-1.8 M257.55 306.3 v1.8 M264.08 541 v-1.8 M264.08 306.3 v1.8 M269.74 541 v-1.8 M269.74 306.3 v1.8 M274.73 541 v-1.8 M274.73 306.3 v1.8 M45.2 541 h3.2 M279.2 541 h-3.2 M45.2 423.65 h3.2 M279.2 423.65 h-3.2 M45.2 306.3 h3.2 M279.2 306.3 h-3.2 M45.2 505.67 h1.8 M279.2 505.67 h-1.8 M45.2 485.01 h1.8 M279.2 485.01 h-1.8 M45.2 470.35 h1.8 M279.2 470.35 h-1.8 M45.2 458.98 h1.8 M279.2 458.98 h-1.8 M45.2 449.68 h1.8 M279.2 449.68 h-1.8 M45.2 441.83 h1.8 M279.2 441.83 h-1.8 M45.2 435.02 h1.8 M279.2 435.02 h-1.8 M45.2 429.02 h1.8 M279.2 429.02 h-1.8 M45.2 388.32 h1.8 M279.2 388.32 h-1.8 M45.2 367.66 h1.8 M279.2 367.66 h-1.8 M45.2 353 h1.8 M279.2 353 h-1.8 M45.2 341.63 h1.8 M279.2 341.63 h-1.8 M45.2 332.33 h1.8 M279.2 332.33 h-1.8 M45.2 324.48 h1.8 M279.2 324.48 h-1.8 M45.2 317.67 h1.8 M279.2 317.67 h-1.8 M45.2 311.67 h1.8 M279.2 311.67 h-1.8 " class="tk"/>
<rect x="45.2" y="306.3" width="234" height="234.7" class="bx"/>
<line x1="373.5" y1="306" x2="373.5" y2="541" class="mnv"/>
<line x1="384.5" y1="306" x2="384.5" y2="541" class="mnv"/>
<line x1="391.5" y1="306" x2="391.5" y2="541" class="mnv"/>
<line x1="397.5" y1="306" x2="397.5" y2="541" class="mnv"/>
<line x1="401.5" y1="306" x2="401.5" y2="541" class="mnv"/>
<line x1="405.5" y1="306" x2="405.5" y2="541" class="mnv"/>
<line x1="409.5" y1="306" x2="409.5" y2="541" class="mnv"/>
<line x1="412.5" y1="306" x2="412.5" y2="541" class="mnv"/>
<line x1="432.5" y1="306" x2="432.5" y2="541" class="mnv"/>
<line x1="442.5" y1="306" x2="442.5" y2="541" class="mnv"/>
<line x1="450.5" y1="306" x2="450.5" y2="541" class="mnv"/>
<line x1="455.5" y1="306" x2="455.5" y2="541" class="mnv"/>
<line x1="460.5" y1="306" x2="460.5" y2="541" class="mnv"/>
<line x1="464.5" y1="306" x2="464.5" y2="541" class="mnv"/>
<line x1="467.5" y1="306" x2="467.5" y2="541" class="mnv"/>
<line x1="470.5" y1="306" x2="470.5" y2="541" class="mnv"/>
<line x1="491.5" y1="306" x2="491.5" y2="541" class="mnv"/>
<line x1="501.5" y1="306" x2="501.5" y2="541" class="mnv"/>
<line x1="508.5" y1="306" x2="508.5" y2="541" class="mnv"/>
<line x1="514.5" y1="306" x2="514.5" y2="541" class="mnv"/>
<line x1="519.5" y1="306" x2="519.5" y2="541" class="mnv"/>
<line x1="522.5" y1="306" x2="522.5" y2="541" class="mnv"/>
<line x1="526.5" y1="306" x2="526.5" y2="541" class="mnv"/>
<line x1="529.5" y1="306" x2="529.5" y2="541" class="mnv"/>
<line x1="549.5" y1="306" x2="549.5" y2="541" class="mnv"/>
<line x1="560.5" y1="306" x2="560.5" y2="541" class="mnv"/>
<line x1="567.5" y1="306" x2="567.5" y2="541" class="mnv"/>
<line x1="573.5" y1="306" x2="573.5" y2="541" class="mnv"/>
<line x1="577.5" y1="306" x2="577.5" y2="541" class="mnv"/>
<line x1="581.5" y1="306" x2="581.5" y2="541" class="mnv"/>
<line x1="585.5" y1="306" x2="585.5" y2="541" class="mnv"/>
<line x1="588.5" y1="306" x2="588.5" y2="541" class="mnv"/>
<line x1="356" y1="505.5" x2="591" y2="505.5" class="mnh"/>
<line x1="356" y1="484.5" x2="591" y2="484.5" class="mnh"/>
<line x1="356" y1="470.5" x2="591" y2="470.5" class="mnh"/>
<line x1="356" y1="458.5" x2="591" y2="458.5" class="mnh"/>
<line x1="356" y1="449.5" x2="591" y2="449.5" class="mnh"/>
<line x1="356" y1="441.5" x2="591" y2="441.5" class="mnh"/>
<line x1="356" y1="434.5" x2="591" y2="434.5" class="mnh"/>
<line x1="356" y1="428.5" x2="591" y2="428.5" class="mnh"/>
<line x1="356" y1="388.5" x2="591" y2="388.5" class="mnh"/>
<line x1="356" y1="367.5" x2="591" y2="367.5" class="mnh"/>
<line x1="356" y1="352.5" x2="591" y2="352.5" class="mnh"/>
<line x1="356" y1="341.5" x2="591" y2="341.5" class="mnh"/>
<line x1="356" y1="332.5" x2="591" y2="332.5" class="mnh"/>
<line x1="356" y1="324.5" x2="591" y2="324.5" class="mnh"/>
<line x1="356" y1="317.5" x2="591" y2="317.5" class="mnh"/>
<line x1="356" y1="311.5" x2="591" y2="311.5" class="mnh"/>
<line x1="356.5" y1="306" x2="356.5" y2="541" class="mjv"/>
<line x1="414.5" y1="306" x2="414.5" y2="541" class="mjv"/>
<line x1="473.5" y1="306" x2="473.5" y2="541" class="mjv"/>
<line x1="532.5" y1="306" x2="532.5" y2="541" class="mjv"/>
<line x1="590.5" y1="306" x2="590.5" y2="541" class="mjv"/>
<line x1="356" y1="540.5" x2="591" y2="540.5" class="mjh"/>
<line x1="356" y1="423.5" x2="591" y2="423.5" class="mjh"/>
<line x1="356" y1="306.5" x2="591" y2="306.5" class="mjh"/>
<path d="M413.7 351.39 L414.7 351.86 L415.7 352.33 L416.7 352.8 L417.69 353.26 L418.69 353.72 L419.69 354.17 L420.69 354.63 L421.69 355.08 L422.69 355.53 L423.68 355.98 L424.68 356.42 L425.68 356.87 L426.68 357.32 L427.68 357.76 L428.68 358.21 L429.68 358.66 L430.67 359.11 L431.67 359.56 L432.67 360.02 L433.67 360.47 L434.67 360.93 L435.67 361.39 L436.66 361.86 L437.66 362.33 L438.66 362.8 L439.66 363.28 L440.66 363.76 L441.66 364.25 L442.66 364.75 L443.65 365.25 L444.65 365.76 L445.65 366.27 L446.65 366.79 L447.65 367.32 L448.65 367.86 L449.64 368.41 L450.64 368.96 L451.64 369.52 L452.64 370.1 L453.64 370.68 L454.64 371.28 L455.64 371.88 L456.63 372.5 L457.63 373.12 L458.63 373.76 L459.63 374.41 L460.63 375.07 L461.63 375.75 L462.62 376.44 L463.62 377.14 L464.62 377.86 L465.62 378.59 L466.62 379.34 L467.62 380.1 L468.62 380.88 L469.61 381.67 L470.61 382.48 L471.61 383.31 L472.61 384.15 L473.61 385.01 L474.61 385.89 L475.6 386.79 L476.6 387.7 L477.6 388.64 L478.6 389.59 L479.6 390.56 L480.6 391.55 L481.6 392.57 L482.59 393.6 L483.59 394.66 L484.59 395.73 L485.59 396.83 L486.59 397.95 L487.59 399.1 L488.58 400.26 L489.58 401.45 L490.58 402.67 L491.58 403.91 L492.58 405.17 L493.58 406.46 L494.58 407.77 L495.57 409.11 L496.57 410.47 L497.57 411.86 L498.57 413.28 L499.57 414.72 L500.57 416.19 L501.56 417.69 L502.56 419.21 L503.56 420.76 L504.56 422.34 L505.56 423.94 L506.56 425.57 L507.56 427.23 L508.55 428.92 L509.55 430.63 L510.55 432.37 L511.55 434.14 L512.55 435.94 L513.55 437.76 L514.54 439.62 L515.54 441.5 L516.54 443.41 L517.54 445.35 L518.54 447.31 L519.54 449.31 L520.54 451.33 L521.53 453.39 L522.53 455.47 L523.53 457.58 L524.53 459.73 L525.53 461.9 L526.53 464.1 L527.52 466.33 L528.52 468.57 L529.52 470.66 L530.52 472.41 L531.52 473.64 L532.52 474.15 L533.52 473.79 L534.51 472.76 L535.51 471.38 L536.51 469.95 L537.51 468.62 L538.51 467.43 L539.51 466.44 L540.5 465.68 L541.5 465.2 L542.5 465.06 L543.5 465.3" stroke="#0072bd" stroke-width="1.5" fill="none" stroke-linejoin="round" stroke-linecap="butt"/>
<path d="M442 349.96 L442.99 350.47 L443.99 350.98 L444.98 351.48 L445.98 351.98 L446.97 352.48 L447.96 352.97 L448.96 353.45 L449.95 353.93 L450.94 354.41 L451.94 354.89 L452.93 355.36 L453.93 355.83 L454.92 356.3 L455.91 356.77 L456.91 357.24 L457.9 357.71 L458.9 358.17 L459.89 358.64 L460.88 359.11 L461.88 359.57 L462.87 360.04 L463.86 360.51 L464.86 360.98 L465.85 361.46 L466.85 361.93 L467.84 362.41 L468.83 362.89 L469.83 363.38 L470.82 363.86 L471.82 364.36 L472.81 364.85 L473.8 365.36 L474.8 365.86 L475.79 366.38 L476.78 366.89 L477.78 367.42 L478.77 367.95 L479.77 368.48 L480.76 369.03 L481.75 369.58 L482.75 370.14 L483.74 370.71 L484.74 371.29 L485.73 371.87 L486.72 372.46 L487.72 373.07 L488.71 373.68 L489.7 374.31 L490.7 374.94 L491.69 375.59 L492.69 376.24 L493.68 376.91 L494.67 377.59 L495.67 378.28 L496.66 378.99 L497.66 379.7 L498.65 380.44 L499.64 381.18 L500.64 381.94 L501.63 382.71 L502.62 383.5 L503.62 384.3 L504.61 385.12 L505.61 385.95 L506.6 386.8 L507.59 387.67 L508.59 388.55 L509.58 389.45 L510.58 390.36 L511.57 391.3 L512.56 392.25 L513.56 393.22 L514.55 394.21 L515.54 395.22 L516.54 396.25 L517.53 397.29 L518.53 398.36 L519.52 399.45 L520.51 400.56 L521.51 401.69 L522.5 402.84 L523.5 404.02 L524.49 405.22 L525.48 406.44 L526.48 407.69 L527.47 408.97 L528.46 410.27 L529.46 411.6 L530.45 412.97 L531.45 414.36 L532.44 415.78 L533.43 417.24 L534.43 418.73 L535.42 420.25 L536.42 421.81 L537.41 423.41 L538.4 425.04 L539.4 426.71 L540.39 428.42 L541.38 430.17 L542.38 431.96 L543.37 433.79 L544.37 435.67 L545.36 437.59 L546.35 439.55 L547.35 441.56 L548.34 443.61 L549.34 445.71 L550.33 447.86 L551.32 450.05 L552.32 452.27 L553.31 454.5 L554.3 456.71 L555.3 458.9 L556.29 461.05 L557.29 463.13 L558.28 465.13 L559.27 467.04 L560.27 468.83 L561.26 470.48 L562.26 471.99 L563.25 473.33 L564.24 474.49 L565.24 475.44 L566.23 476.18 L567.22 476.67 L568.22 476.91 L569.21 476.88 L570.21 476.56 L571.2 475.93" stroke="#d95319" stroke-width="1.5" fill="none" stroke-linejoin="round" stroke-linecap="butt"/>
<path d="M356.3 341.4 L357.3 341.81 L358.3 342.22 L359.29 342.62 L360.29 343.03 L361.29 343.42 L362.29 343.82 L363.28 344.22 L364.28 344.61 L365.28 345.01 L366.28 345.4 L367.28 345.79 L368.27 346.18 L369.27 346.57 L370.27 346.96 L371.27 347.35 L372.26 347.74 L373.26 348.13 L374.26 348.52 L375.26 348.91 L376.26 349.3 L377.25 349.69 L378.25 350.08 L379.25 350.47 L380.25 350.86 L381.25 351.26 L382.24 351.65 L383.24 352.05 L384.24 352.45 L385.24 352.85 L386.23 353.26 L387.23 353.67 L388.23 354.07 L389.23 354.49 L390.23 354.9 L391.22 355.32 L392.22 355.74 L393.22 356.16 L394.22 356.59 L395.21 357.02 L396.21 357.46 L397.21 357.9 L398.21 358.34 L399.21 358.79 L400.2 359.24 L401.2 359.7 L402.2 360.16 L403.2 360.63 L404.19 361.1 L405.19 361.58 L406.19 362.06 L407.19 362.55 L408.19 363.04 L409.18 363.54 L410.18 364.05 L411.18 364.56 L412.18 365.08 L413.18 365.61 L414.17 366.14 L415.17 366.68 L416.17 367.23 L417.17 367.79 L418.16 368.35 L419.16 368.92 L420.16 369.5 L421.16 370.08 L422.16 370.68 L423.15 371.28 L424.15 371.89 L425.15 372.51 L426.15 373.14 L427.14 373.78 L428.14 374.43 L429.14 375.09 L430.14 375.75 L431.14 376.43 L432.13 377.11 L433.13 377.81 L434.13 378.52 L435.13 379.23 L436.12 379.96 L437.12 380.7 L438.12 381.45 L439.12 382.21 L440.12 382.98 L441.11 383.76 L442.11 384.56 L443.11 385.36 L444.11 386.18 L445.11 387.01 L446.1 387.85 L447.1 388.71 L448.1 389.58 L449.1 390.47 L450.09 391.38 L451.09 392.31 L452.09 393.26 L453.09 394.24 L454.09 395.24 L455.08 396.27 L456.08 397.34 L457.08 398.43 L458.08 399.55 L459.07 400.71 L460.07 401.91 L461.07 403.14 L462.07 404.41 L463.07 405.73 L464.06 407.09 L465.06 408.49 L466.06 409.94 L467.06 411.44 L468.05 412.99 L469.05 414.59 L470.05 416.24 L471.05 417.95 L472.05 419.71 L473.04 421.54 L474.04 423.42 L475.04 425.36 L476.04 427.37 L477.04 429.45 L478.03 431.6 L479.03 433.81 L480.03 436.11 L481.03 438.48 L482.02 440.94 L483.02 443.48 L484.02 446.1 L485.02 448.82 L486.02 451.64 L487.01 454.55 L488.01 457.56 L489.01 460.68 L490.01 463.9 L491 467.23 L492 470.68 L493 474.24" stroke="#edb120" stroke-width="1.5" fill="none" stroke-linejoin="round" stroke-linecap="butt"/>
<path d="M361.8 335.69 L362.8 336.08 L363.79 336.47 L364.79 336.86 L365.78 337.24 L366.78 337.62 L367.78 337.99 L368.77 338.36 L369.77 338.73 L370.76 339.09 L371.76 339.44 L372.76 339.8 L373.75 340.15 L374.75 340.5 L375.74 340.84 L376.74 341.18 L377.74 341.52 L378.73 341.86 L379.73 342.2 L380.72 342.54 L381.72 342.87 L382.72 343.2 L383.71 343.53 L384.71 343.87 L385.7 344.2 L386.7 344.53 L387.7 344.86 L388.69 345.19 L389.69 345.52 L390.68 345.86 L391.68 346.19 L392.68 346.52 L393.67 346.86 L394.67 347.2 L395.66 347.54 L396.66 347.88 L397.66 348.22 L398.65 348.57 L399.65 348.92 L400.65 349.27 L401.64 349.62 L402.64 349.98 L403.63 350.34 L404.63 350.71 L405.63 351.08 L406.62 351.45 L407.62 351.83 L408.61 352.21 L409.61 352.6 L410.61 352.99 L411.6 353.39 L412.6 353.8 L413.59 354.21 L414.59 354.62 L415.59 355.05 L416.58 355.47 L417.58 355.91 L418.57 356.35 L419.57 356.8 L420.57 357.26 L421.56 357.72 L422.56 358.2 L423.55 358.68 L424.55 359.17 L425.55 359.66 L426.54 360.17 L427.54 360.68 L428.53 361.21 L429.53 361.74 L430.53 362.28 L431.52 362.82 L432.52 363.38 L433.51 363.94 L434.51 364.51 L435.51 365.09 L436.5 365.68 L437.5 366.27 L438.49 366.87 L439.49 367.47 L440.49 368.08 L441.48 368.7 L442.48 369.33 L443.47 369.96 L444.47 370.59 L445.47 371.23 L446.46 371.88 L447.46 372.53 L448.45 373.19 L449.45 373.86 L450.45 374.53 L451.44 375.2 L452.44 375.88 L453.43 376.57 L454.43 377.26 L455.43 377.96 L456.42 378.68 L457.42 379.4 L458.41 380.14 L459.41 380.88 L460.41 381.64 L461.4 382.42 L462.4 383.2 L463.39 384.01 L464.39 384.83 L465.39 385.67 L466.38 386.52 L467.38 387.4 L468.37 388.29 L469.37 389.21 L470.37 390.14 L471.36 391.1 L472.36 392.09 L473.35 393.09 L474.35 394.12 L475.35 395.17 L476.34 396.25 L477.34 397.34 L478.34 398.46 L479.33 399.6 L480.33 400.76 L481.32 401.94 L482.32 403.14 L483.32 404.36 L484.31 405.59 L485.31 406.85 L486.3 408.13 L487.3 409.42 L488.3 410.73 L489.29 412.06 L490.29 413.41 L491.28 414.79 L492.28 416.22 L493.28 417.72 L494.27 419.29 L495.27 420.95 L496.26 422.71 L497.26 424.57 L498.26 426.53 L499.25 428.58 L500.25 430.73 L501.24 432.98 L502.24 435.34 L503.24 437.8 L504.23 440.38 L505.23 443.07 L506.22 445.88 L507.22 448.8 L508.22 451.85 L509.21 455.04 L510.21 458.37 L511.2 461.85 L512.2 465.5" stroke="#7e2f8e" stroke-width="1.5" fill="none" stroke-linejoin="round" stroke-linecap="butt"/>
<path d="M385.3 337.77 L386.3 338.14 L387.3 338.51 L388.3 338.87 L389.3 339.23 L390.3 339.59 L391.3 339.95 L392.3 340.31 L393.29 340.67 L394.29 341.03 L395.29 341.38 L396.29 341.74 L397.29 342.09 L398.29 342.45 L399.29 342.8 L400.29 343.16 L401.29 343.51 L402.29 343.87 L403.29 344.22 L404.29 344.58 L405.29 344.94 L406.29 345.29 L407.29 345.65 L408.28 346.01 L409.28 346.38 L410.28 346.74 L411.28 347.1 L412.28 347.47 L413.28 347.84 L414.28 348.21 L415.28 348.58 L416.28 348.96 L417.28 349.34 L418.28 349.72 L419.28 350.1 L420.28 350.49 L421.28 350.88 L422.27 351.27 L423.27 351.67 L424.27 352.07 L425.27 352.47 L426.27 352.88 L427.27 353.29 L428.27 353.71 L429.27 354.13 L430.27 354.55 L431.27 354.98 L432.27 355.41 L433.27 355.85 L434.27 356.3 L435.27 356.74 L436.27 357.2 L437.26 357.66 L438.26 358.12 L439.26 358.6 L440.26 359.07 L441.26 359.56 L442.26 360.05 L443.26 360.54 L444.26 361.05 L445.26 361.55 L446.26 362.07 L447.26 362.59 L448.26 363.12 L449.26 363.66 L450.26 364.21 L451.26 364.76 L452.25 365.32 L453.25 365.89 L454.25 366.46 L455.25 367.05 L456.25 367.64 L457.25 368.24 L458.25 368.85 L459.25 369.47 L460.25 370.1 L461.25 370.73 L462.25 371.38 L463.25 372.03 L464.25 372.7 L465.25 373.37 L466.24 374.05 L467.24 374.75 L468.24 375.45 L469.24 376.16 L470.24 376.89 L471.24 377.62 L472.24 378.37 L473.24 379.13 L474.24 379.89 L475.24 380.67 L476.24 381.46 L477.24 382.26 L478.24 383.07 L479.24 383.9 L480.24 384.73 L481.23 385.58 L482.23 386.44 L483.23 387.32 L484.23 388.2 L485.23 389.1 L486.23 390.01 L487.23 390.93 L488.23 391.87 L489.23 392.82 L490.23 393.78 L491.23 394.76 L492.23 395.75 L493.23 396.75 L494.23 397.77 L495.23 398.81 L496.22 399.87 L497.22 400.96 L498.22 402.07 L499.22 403.2 L500.22 404.37 L501.22 405.57 L502.22 406.8 L503.22 408.06 L504.22 409.37 L505.22 410.71 L506.22 412.09 L507.22 413.52 L508.22 414.99 L509.22 416.51 L510.21 418.09 L511.21 419.71 L512.21 421.38 L513.21 423.12 L514.21 424.91 L515.21 426.76 L516.21 428.67 L517.21 430.65 L518.21 432.7 L519.21 434.82 L520.21 437.02 L521.21 439.29 L522.21 441.64 L523.21 444.07 L524.21 446.59 L525.2 449.2 L526.2 451.9 L527.2 454.69 L528.2 457.58 L529.2 460.57 L530.2 463.66 L531.2 466.86 L532.2 470.16" stroke="#77ac30" stroke-width="1.5" fill="none" stroke-linejoin="round" stroke-linecap="butt"/>
<rect x="366" y="425" width="97.6" height="111.4" fill="#fff"/>
<line x1="371.2" y1="437.3" x2="385.8" y2="437.3" stroke="#0072bd" stroke-width="1.6"/>
<text x="387.3" y="439.9" font-size="10.3">g<tspan dy="4.53" font-size="8.24">v</tspan><tspan dx="-4.12" dy="-9.68" font-size="8.24">1</tspan><tspan dy="5.15"> = 1 &amp; g<tspan dy="4.53" font-size="8.24">v</tspan><tspan dx="-4.12" dy="-9.68" font-size="8.24">2</tspan><tspan dy="5.15"> = 1</tspan></tspan></text>
<line x1="371.2" y1="458.3" x2="385.8" y2="458.3" stroke="#d95319" stroke-width="1.6"/>
<text x="387.3" y="460.9" font-size="10.3">g<tspan dy="4.53" font-size="8.24">v</tspan><tspan dx="-4.12" dy="-9.68" font-size="8.24">1</tspan><tspan dy="5.15"> = 4 &amp; g<tspan dy="4.53" font-size="8.24">v</tspan><tspan dx="-4.12" dy="-9.68" font-size="8.24">2</tspan><tspan dy="5.15"> = 1</tspan></tspan></text>
<line x1="371.2" y1="479.3" x2="385.8" y2="479.3" stroke="#edb120" stroke-width="1.6"/>
<text x="387.3" y="481.9" font-size="10.3">g<tspan dy="4.53" font-size="8.24">v</tspan><tspan dx="-4.12" dy="-9.68" font-size="8.24">1</tspan><tspan dy="5.15"> = 1 &amp; g<tspan dy="4.53" font-size="8.24">v</tspan><tspan dx="-4.12" dy="-9.68" font-size="8.24">2</tspan><tspan dy="5.15"> = 6</tspan></tspan></text>
<line x1="371.2" y1="500.3" x2="385.8" y2="500.3" stroke="#7e2f8e" stroke-width="1.6"/>
<text x="387.3" y="502.9" font-size="10.3">g<tspan dy="4.53" font-size="8.24">v</tspan><tspan dx="-4.12" dy="-9.68" font-size="8.24">1</tspan><tspan dy="5.15"> = 4 &amp; g<tspan dy="4.53" font-size="8.24">v</tspan><tspan dx="-4.12" dy="-9.68" font-size="8.24">2</tspan><tspan dy="5.15"> = 6</tspan></tspan></text>
<line x1="371.2" y1="521.3" x2="385.8" y2="521.3" stroke="#77ac30" stroke-width="1.6"/>
<text x="387.3" y="523.9" font-size="10.3">g<tspan dy="4.53" font-size="8.24">v</tspan><tspan dx="-4.12" dy="-9.68" font-size="8.24">1</tspan><tspan dy="5.15"> = 6 &amp; g<tspan dy="4.53" font-size="8.24">v</tspan><tspan dx="-4.12" dy="-9.68" font-size="8.24">2</tspan><tspan dy="5.15"> = 4</tspan></tspan></text>
<path d="M356.2 540.6 v-3.2 M356.2 306.3 v3.2 M414.82 540.6 v-3.2 M414.82 306.3 v3.2 M473.45 540.6 v-3.2 M473.45 306.3 v3.2 M532.08 540.6 v-3.2 M532.08 306.3 v3.2 M590.7 540.6 v-3.2 M590.7 306.3 v3.2 M373.85 540.6 v-1.8 M373.85 306.3 v1.8 M384.17 540.6 v-1.8 M384.17 306.3 v1.8 M391.5 540.6 v-1.8 M391.5 306.3 v1.8 M397.18 540.6 v-1.8 M397.18 306.3 v1.8 M401.82 540.6 v-1.8 M401.82 306.3 v1.8 M405.74 540.6 v-1.8 M405.74 306.3 v1.8 M409.14 540.6 v-1.8 M409.14 306.3 v1.8 M412.14 540.6 v-1.8 M412.14 306.3 v1.8 M432.47 540.6 v-1.8 M432.47 306.3 v1.8 M442.8 540.6 v-1.8 M442.8 306.3 v1.8 M450.12 540.6 v-1.8 M450.12 306.3 v1.8 M455.8 540.6 v-1.8 M455.8 306.3 v1.8 M460.44 540.6 v-1.8 M460.44 306.3 v1.8 M464.37 540.6 v-1.8 M464.37 306.3 v1.8 M467.77 540.6 v-1.8 M467.77 306.3 v1.8 M470.77 540.6 v-1.8 M470.77 306.3 v1.8 M491.1 540.6 v-1.8 M491.1 306.3 v1.8 M501.42 540.6 v-1.8 M501.42 306.3 v1.8 M508.75 540.6 v-1.8 M508.75 306.3 v1.8 M514.43 540.6 v-1.8 M514.43 306.3 v1.8 M519.07 540.6 v-1.8 M519.07 306.3 v1.8 M522.99 540.6 v-1.8 M522.99 306.3 v1.8 M526.39 540.6 v-1.8 M526.39 306.3 v1.8 M529.39 540.6 v-1.8 M529.39 306.3 v1.8 M549.72 540.6 v-1.8 M549.72 306.3 v1.8 M560.05 540.6 v-1.8 M560.05 306.3 v1.8 M567.37 540.6 v-1.8 M567.37 306.3 v1.8 M573.05 540.6 v-1.8 M573.05 306.3 v1.8 M577.69 540.6 v-1.8 M577.69 306.3 v1.8 M581.62 540.6 v-1.8 M581.62 306.3 v1.8 M585.02 540.6 v-1.8 M585.02 306.3 v1.8 M588.02 540.6 v-1.8 M588.02 306.3 v1.8 M356.2 540.6 h3.2 M590.7 540.6 h-3.2 M356.2 423.45 h3.2 M590.7 423.45 h-3.2 M356.2 306.3 h3.2 M590.7 306.3 h-3.2 M356.2 505.33 h1.8 M590.7 505.33 h-1.8 M356.2 484.71 h1.8 M590.7 484.71 h-1.8 M356.2 470.07 h1.8 M590.7 470.07 h-1.8 M356.2 458.72 h1.8 M590.7 458.72 h-1.8 M356.2 449.44 h1.8 M590.7 449.44 h-1.8 M356.2 441.6 h1.8 M590.7 441.6 h-1.8 M356.2 434.8 h1.8 M590.7 434.8 h-1.8 M356.2 428.81 h1.8 M590.7 428.81 h-1.8 M356.2 388.18 h1.8 M590.7 388.18 h-1.8 M356.2 367.56 h1.8 M590.7 367.56 h-1.8 M356.2 352.92 h1.8 M590.7 352.92 h-1.8 M356.2 341.57 h1.8 M590.7 341.57 h-1.8 M356.2 332.29 h1.8 M590.7 332.29 h-1.8 M356.2 324.45 h1.8 M590.7 324.45 h-1.8 M356.2 317.65 h1.8 M590.7 317.65 h-1.8 M356.2 311.66 h1.8 M590.7 311.66 h-1.8 " class="tk"/>
<rect x="356.2" y="306.3" width="234.5" height="234.3" class="bx"/>
<text x="45.3" y="262.5" text-anchor="middle" font-size="11.4">10<tspan dy="-5.93" font-size="8.55">4</tspan></text>
<text x="103.85" y="262.5" text-anchor="middle" font-size="11.4">10<tspan dy="-5.93" font-size="8.55">5</tspan></text>
<text x="162.4" y="262.5" text-anchor="middle" font-size="11.4">10<tspan dy="-5.93" font-size="8.55">6</tspan></text>
<text x="220.95" y="262.5" text-anchor="middle" font-size="11.4">10<tspan dy="-5.93" font-size="8.55">7</tspan></text>
<text x="279.5" y="262.5" text-anchor="middle" font-size="11.4">10<tspan dy="-5.93" font-size="8.55">8</tspan></text>
<text x="41.5" y="15.8" text-anchor="end" font-size="11.4">10<tspan dy="-5.7" font-size="8.89">-3</tspan></text>
<text x="41.5" y="132.9" text-anchor="end" font-size="11.4">10<tspan dy="-5.7" font-size="8.89">-4</tspan></text>
<text x="41.5" y="250" text-anchor="end" font-size="11.4">10<tspan dy="-5.7" font-size="8.89">-5</tspan></text>
<text x="356.5" y="264.6" text-anchor="middle" font-size="10.6">10<tspan dy="-5.83" font-size="8.27">5</tspan></text>
<text x="415.2" y="264.6" text-anchor="middle" font-size="10.6">10<tspan dy="-5.83" font-size="8.27">6</tspan></text>
<text x="473.9" y="264.6" text-anchor="middle" font-size="10.6">10<tspan dy="-5.83" font-size="8.27">7</tspan></text>
<text x="532.6" y="264.6" text-anchor="middle" font-size="10.6">10<tspan dy="-5.83" font-size="8.27">8</tspan></text>
<text x="591.3" y="264.6" text-anchor="middle" font-size="10.6">10<tspan dy="-5.83" font-size="8.27">9</tspan></text>
<text x="352.9" y="15.7" text-anchor="end" font-size="11.3">10<tspan dy="-5.65" font-size="8.81">-3</tspan></text>
<text x="352.9" y="184.95" text-anchor="end" font-size="11.3">10<tspan dy="-5.65" font-size="8.81">-4</tspan></text>
<text x="84.03" y="560" text-anchor="middle" font-size="11">10<tspan dy="-6.05" font-size="8.58">7</tspan></text>
<text x="181.62" y="560" text-anchor="middle" font-size="11">10<tspan dy="-6.05" font-size="8.58">8</tspan></text>
<text x="279.2" y="560" text-anchor="middle" font-size="11">10<tspan dy="-6.05" font-size="8.58">9</tspan></text>
<text x="41.6" y="312.5" text-anchor="end" font-size="11.5">10<tspan dy="-5.75" font-size="8.97">-3</tspan></text>
<text x="41.6" y="429.85" text-anchor="end" font-size="11.5">10<tspan dy="-5.75" font-size="8.97">-4</tspan></text>
<text x="41.6" y="547.2" text-anchor="end" font-size="11.5">10<tspan dy="-5.75" font-size="8.97">-5</tspan></text>
<text x="356.2" y="559.6" text-anchor="middle" font-size="11">10<tspan dy="-6.05" font-size="8.58">6</tspan></text>
<text x="414.82" y="559.6" text-anchor="middle" font-size="11">10<tspan dy="-6.05" font-size="8.58">7</tspan></text>
<text x="473.45" y="559.6" text-anchor="middle" font-size="11">10<tspan dy="-6.05" font-size="8.58">8</tspan></text>
<text x="532.08" y="559.6" text-anchor="middle" font-size="11">10<tspan dy="-6.05" font-size="8.58">9</tspan></text>
<text x="590.7" y="559.6" text-anchor="middle" font-size="11">10<tspan dy="-6.05" font-size="8.58">10</tspan></text>
<text x="352.6" y="312.5" text-anchor="end" font-size="11.5">10<tspan dy="-5.75" font-size="8.97">-3</tspan></text>
<text x="352.6" y="429.65" text-anchor="end" font-size="11.5">10<tspan dy="-5.75" font-size="8.97">-4</tspan></text>
<text x="352.6" y="546.8" text-anchor="end" font-size="11.5">10<tspan dy="-5.75" font-size="8.97">-5</tspan></text>
<text x="71.1" y="283.7" font-size="12.95">Electrical conductivity (S m<tspan dx="1" dy="-6.35" font-size="9.84">-1</tspan><tspan dx="0.3" dy="6.35">)</tspan></text>
<text x="382.9" y="286.1" font-size="12.95">Electrical conductivity (S m<tspan dx="1" dy="-6.35" font-size="9.84">-1</tspan><tspan dx="0.3" dy="6.35">)</tspan></text>
<text x="71.3" y="581" font-size="12.95">Electrical conductivity (S m<tspan dx="1" dy="-6.35" font-size="9.84">-1</tspan><tspan dx="0.3" dy="6.35">)</tspan></text>
<text x="382.6" y="580.1" font-size="12.95">Electrical conductivity (S m<tspan dx="1" dy="-6.35" font-size="9.84">-1</tspan><tspan dx="0.3" dy="6.35">)</tspan></text>
<text transform="translate(15.1 125.5) rotate(-90)" text-anchor="middle" font-size="13">Seebeck coefficient (V K<tspan dx="1" dy="-6.37" font-size="9.88">-1</tspan><tspan dx="0.4" dy="6.37">)</tspan></text>
<text transform="translate(327 127.5) rotate(-90)" text-anchor="middle" font-size="13">Seebeck coefficient (V K<tspan dx="1" dy="-6.37" font-size="9.88">-1</tspan><tspan dx="0.4" dy="6.37">)</tspan></text>
<text transform="translate(15 423.5) rotate(-90)" text-anchor="middle" font-size="13">Seebeck coefficient (V K<tspan dx="1" dy="-6.37" font-size="9.88">-1</tspan><tspan dx="0.4" dy="6.37">)</tspan></text>
<text transform="translate(328 423) rotate(-90)" text-anchor="middle" font-size="13">Seebeck coefficient (V K<tspan dx="1" dy="-6.37" font-size="9.88">-1</tspan><tspan dx="0.4" dy="6.37">)</tspan></text>
<text x="3.6" y="12.9" font-size="15">a)</text>
<text x="315" y="12.9" font-size="15">b)</text>
<text x="3.8" y="309.2" font-size="15">c)</text>
<text x="314.8" y="309" font-size="15">d)</text>
</svg></body></html>
